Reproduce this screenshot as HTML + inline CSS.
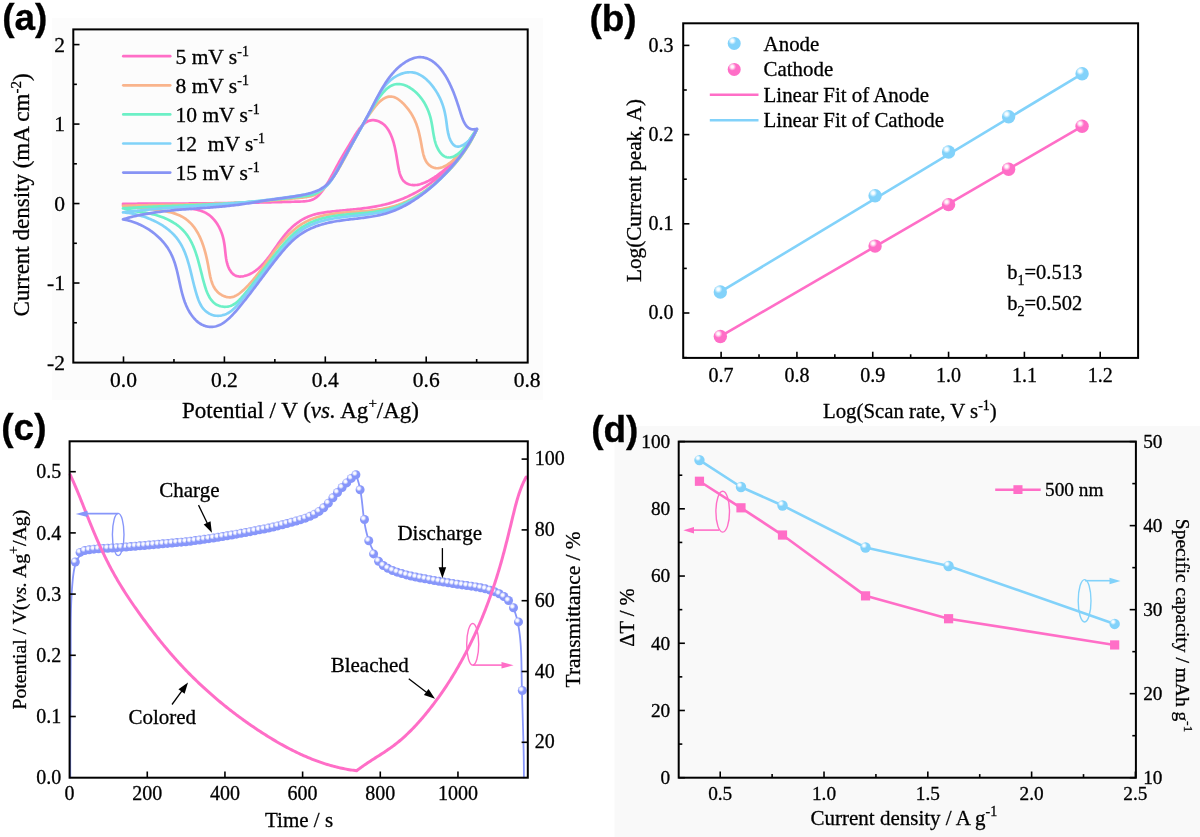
<!DOCTYPE html>
<html><head><meta charset="utf-8"><title>Figure</title>
<style>html,body{margin:0;padding:0;background:#fff;}svg{display:block;will-change:transform;}text{fill:#000;stroke:#000;stroke-width:0.3px;}</style>
</head><body>
<svg width="1200" height="837" viewBox="0 0 1200 837">
<defs>
<radialGradient id="gSky" cx="0.35" cy="0.3" r="0.3">
<stop offset="0" stop-color="#ffffff"/><stop offset="0.35" stop-color="#f2fbff"/><stop offset="1" stop-color="#82d2fa"/></radialGradient>
<radialGradient id="gPink" cx="0.35" cy="0.3" r="0.3">
<stop offset="0" stop-color="#ffffff"/><stop offset="0.35" stop-color="#fff0f8"/><stop offset="1" stop-color="#ff6ec7"/></radialGradient>
<radialGradient id="gBlue" cx="0.36" cy="0.34" r="0.34">
<stop offset="0" stop-color="#ffffff"/><stop offset="0.4" stop-color="#f4f5ff"/><stop offset="1" stop-color="#8796fa"/></radialGradient>
</defs>
<rect width="1200" height="837" fill="#ffffff"/>
<rect x="52" y="18" width="491" height="382" fill="#fcfcfc"/>
<rect x="614.5" y="426" width="585.5" height="411" fill="#f9f9f9"/>
<text x="2.15" y="30.3" font-size="37" text-anchor="start" font-family='"Liberation Sans", sans-serif' font-weight="bold" >(a)</text>
<path d="M123 203.75 L124.51 203.75 L126.01 203.75 L127.52 203.74 L129.02 203.74 L130.53 203.74 L132.03 203.74 L133.54 203.73 L135.05 203.73 L136.56 203.73 L138.06 203.72 L139.57 203.72 L141.08 203.72 L142.59 203.71 L144.09 203.71 L145.6 203.7 L147.11 203.7 L148.62 203.69 L150.13 203.69 L151.64 203.68 L153.15 203.68 L154.66 203.67 L156.17 203.67 L157.68 203.66 L159.19 203.65 L160.7 203.65 L162.21 203.64 L163.72 203.63 L165.23 203.63 L166.74 203.62 L168.25 203.61 L169.76 203.6 L171.27 203.59 L172.78 203.58 L174.29 203.58 L175.8 203.57 L177.31 203.56 L178.82 203.55 L180.33 203.54 L181.84 203.53 L183.35 203.52 L184.86 203.51 L186.37 203.49 L187.88 203.48 L189.39 203.47 L190.9 203.46 L192.41 203.45 L193.92 203.43 L195.43 203.42 L196.94 203.41 L198.45 203.39 L199.96 203.38 L201.47 203.37 L202.98 203.35 L204.49 203.34 L206 203.32 L207.51 203.31 L209.02 203.29 L210.53 203.27 L212.04 203.26 L213.55 203.24 L215.05 203.22 L216.56 203.2 L218.07 203.19 L219.58 203.17 L221.09 203.15 L222.59 203.13 L224.1 203.11 L225.61 203.09 L227.11 203.07 L228.62 203.05 L230.12 203.03 L231.63 203.01 L233.14 202.99 L234.64 202.96 L236.15 202.94 L237.65 202.92 L239.15 202.9 L240.66 202.87 L242.16 202.85 L243.66 202.82 L245.17 202.8 L246.67 202.77 L248.17 202.75 L249.68 202.72 L251.18 202.69 L252.68 202.67 L254.19 202.64 L255.69 202.61 L257.19 202.58 L258.7 202.55 L260.2 202.52 L261.71 202.49 L263.21 202.46 L264.72 202.43 L266.23 202.4 L267.74 202.37 L269.25 202.33 L270.76 202.3 L272.27 202.27 L273.78 202.23 L275.3 202.2 L276.81 202.16 L278.33 202.13 L279.85 202.09 L281.37 202.05 L282.89 202.01 L284.41 201.97 L285.94 201.93 L287.46 201.89 L288.99 201.85 L290.52 201.81 L292.05 201.77 L293.59 201.73 L295.12 201.68 L296.66 201.64 L298.2 201.59 L299.75 201.55 L301.29 201.49 L302.82 201.42 L304.34 201.31 L305.83 201.17 L307.3 200.97 L308.74 200.72 L310.13 200.39 L311.48 199.97 L312.78 199.47 L314.01 198.85 L315.19 198.14 L316.32 197.34 L317.4 196.45 L318.43 195.48 L319.43 194.45 L320.39 193.37 L321.32 192.23 L322.23 191.06 L323.12 189.85 L323.99 188.62 L324.84 187.36 L325.68 186.09 L326.5 184.79 L327.31 183.48 L328.11 182.15 L328.89 180.82 L329.66 179.47 L330.43 178.11 L331.18 176.75 L331.93 175.39 L332.67 174.02 L333.4 172.66 L334.13 171.29 L334.85 169.94 L335.57 168.59 L336.29 167.25 L337.01 165.92 L337.72 164.61 L338.44 163.31 L339.15 162.02 L339.87 160.75 L340.59 159.48 L341.31 158.23 L342.04 156.98 L342.77 155.73 L343.5 154.48 L344.24 153.24 L344.98 151.99 L345.72 150.74 L346.48 149.48 L347.24 148.22 L348 146.94 L348.78 145.65 L349.56 144.35 L350.35 143.03 L351.15 141.7 L351.95 140.34 L352.77 138.97 L353.6 137.58 L354.44 136.18 L355.3 134.79 L356.18 133.41 L357.07 132.05 L357.98 130.72 L358.91 129.43 L359.86 128.19 L360.84 127.01 L361.84 125.89 L362.88 124.84 L363.94 123.88 L365.03 123.01 L366.15 122.24 L367.31 121.58 L368.5 121.04 L369.73 120.62 L370.99 120.34 L372.3 120.2 L373.64 120.21 L375 120.36 L376.37 120.64 L377.73 121.05 L379.08 121.58 L380.41 122.22 L381.69 122.97 L382.93 123.83 L384.1 124.79 L385.19 125.84 L386.21 126.97 L387.16 128.18 L388.04 129.45 L388.85 130.77 L389.6 132.14 L390.3 133.54 L390.94 134.97 L391.54 136.41 L392.09 137.85 L392.6 139.29 L393.07 140.73 L393.51 142.18 L393.92 143.62 L394.3 145.06 L394.65 146.51 L394.97 147.96 L395.28 149.41 L395.57 150.87 L395.85 152.34 L396.11 153.82 L396.37 155.3 L396.62 156.79 L396.87 158.3 L397.11 159.81 L397.36 161.34 L397.62 162.88 L397.88 164.44 L398.16 166.01 L398.45 167.6 L398.77 169.18 L399.11 170.76 L399.5 172.31 L399.93 173.81 L400.41 175.27 L400.96 176.66 L401.57 177.96 L402.27 179.17 L403.05 180.27 L403.92 181.26 L404.87 182.12 L405.9 182.87 L406.99 183.5 L408.15 184.03 L409.36 184.44 L410.61 184.75 L411.89 184.96 L413.21 185.07 L414.54 185.08 L415.89 185 L417.25 184.83 L418.63 184.57 L420.02 184.24 L421.41 183.83 L422.81 183.35 L424.21 182.81 L425.61 182.21 L427.01 181.55 L428.41 180.84 L429.8 180.08 L431.19 179.29 L432.57 178.45 L433.93 177.59 L435.28 176.69 L436.61 175.78 L437.92 174.84 L439.22 173.89 L440.49 172.94 L441.73 171.98 L442.96 171.01 L444.16 170.03 L445.33 169.05 L446.49 168.06 L447.63 167.06 L448.75 166.05 L449.85 165.04 L450.92 164.01 L451.99 162.98 L453.03 161.94 L454.06 160.89 L455.07 159.83 L456.06 158.77 L457.04 157.69 L458.01 156.6 L458.96 155.5 L459.9 154.39 L460.83 153.27 L461.74 152.14 L462.65 150.99 L463.54 149.84 L464.42 148.67 L465.3 147.5 L466.16 146.31 L467.02 145.1 L467.87 143.89 L468.71 142.66 L469.55 141.41 L470.38 140.16 L471.21 138.89 L472.03 137.61 L472.84 136.31 L473.66 135 L474.47 133.67 L475.28 132.33 L476.09 130.97 L476.9 129.6M476.89 129.6 L476.2 130.91 L475.49 132.21 L474.77 133.51 L474.04 134.81 L473.29 136.09 L472.52 137.38 L471.75 138.65 L470.96 139.92 L470.16 141.19 L469.34 142.44 L468.51 143.69 L467.67 144.94 L466.81 146.18 L465.94 147.41 L465.06 148.63 L464.17 149.84 L463.26 151.05 L462.35 152.25 L461.42 153.44 L460.47 154.63 L459.52 155.8 L458.55 156.97 L457.58 158.13 L456.59 159.28 L455.59 160.42 L454.58 161.55 L453.55 162.67 L452.52 163.78 L451.47 164.89 L450.42 165.98 L449.35 167.06 L448.28 168.13 L447.19 169.2 L446.09 170.25 L444.98 171.29 L443.86 172.32 L442.74 173.34 L441.6 174.34 L440.45 175.34 L439.29 176.32 L438.13 177.29 L436.95 178.25 L435.76 179.2 L434.57 180.14 L433.37 181.06 L432.15 181.97 L430.93 182.87 L429.7 183.75 L428.46 184.62 L427.22 185.48 L425.96 186.32 L424.7 187.15 L423.43 187.97 L422.15 188.77 L420.86 189.56 L419.57 190.33 L418.26 191.09 L416.95 191.83 L415.64 192.56 L414.31 193.28 L412.98 193.98 L411.64 194.66 L410.29 195.32 L408.94 195.98 L407.58 196.61 L406.22 197.23 L404.85 197.83 L403.47 198.42 L402.08 198.99 L400.69 199.54 L399.3 200.07 L397.89 200.59 L396.49 201.09 L395.07 201.57 L393.66 202.04 L392.23 202.49 L390.8 202.91 L389.37 203.33 L387.93 203.72 L386.48 204.1 L385.04 204.46 L383.58 204.81 L382.13 205.14 L380.66 205.46 L379.2 205.76 L377.73 206.05 L376.26 206.33 L374.78 206.6 L373.3 206.85 L371.82 207.1 L370.33 207.33 L368.84 207.55 L367.35 207.77 L365.85 207.97 L364.35 208.17 L362.85 208.36 L361.35 208.55 L359.85 208.72 L358.34 208.89 L356.83 209.06 L355.32 209.22 L353.81 209.37 L352.3 209.52 L350.78 209.67 L349.27 209.82 L347.75 209.96 L346.23 210.11 L344.72 210.25 L343.2 210.39 L341.68 210.53 L340.16 210.67 L338.64 210.81 L337.12 210.95 L335.6 211.1 L334.08 211.25 L332.56 211.41 L331.05 211.57 L329.54 211.74 L328.03 211.92 L326.53 212.12 L325.03 212.33 L323.54 212.56 L322.06 212.8 L320.59 213.07 L319.13 213.37 L317.68 213.69 L316.24 214.03 L314.81 214.41 L313.4 214.81 L312 215.26 L310.61 215.73 L309.25 216.25 L307.9 216.8 L306.56 217.4 L305.25 218.03 L303.95 218.7 L302.67 219.41 L301.41 220.16 L300.17 220.94 L298.94 221.76 L297.73 222.61 L296.54 223.49 L295.37 224.41 L294.21 225.35 L293.08 226.33 L291.96 227.34 L290.86 228.37 L289.78 229.44 L288.72 230.53 L287.67 231.65 L286.65 232.79 L285.64 233.95 L284.65 235.14 L283.67 236.35 L282.71 237.58 L281.76 238.82 L280.82 240.08 L279.9 241.34 L278.98 242.62 L278.07 243.9 L277.16 245.19 L276.26 246.49 L275.36 247.78 L274.46 249.07 L273.57 250.36 L272.67 251.64 L271.77 252.92 L270.86 254.19 L269.95 255.44 L269.03 256.68 L268.1 257.9 L267.17 259.11 L266.22 260.29 L265.26 261.45 L264.28 262.59 L263.29 263.7 L262.28 264.78 L261.25 265.84 L260.21 266.85 L259.14 267.83 L258.05 268.78 L256.94 269.68 L255.8 270.55 L254.63 271.37 L253.43 272.14 L252.21 272.86 L250.95 273.54 L249.66 274.16 L248.34 274.73 L246.98 275.24 L245.6 275.68 L244.21 276.04 L242.82 276.31 L241.43 276.47 L240.07 276.53 L238.73 276.45 L237.43 276.24 L236.19 275.89 L235.01 275.37 L233.9 274.7 L232.86 273.86 L231.9 272.9 L231.01 271.8 L230.19 270.6 L229.44 269.31 L228.76 267.93 L228.16 266.49 L227.63 265 L227.17 263.48 L226.78 261.92 L226.45 260.35 L226.16 258.76 L225.92 257.16 L225.71 255.55 L225.52 253.95 L225.35 252.36 L225.18 250.78 L225.02 249.22 L224.84 247.68 L224.65 246.16 L224.45 244.66 L224.22 243.18 L223.97 241.71 L223.69 240.25 L223.37 238.8 L223.01 237.35 L222.61 235.91 L222.17 234.48 L221.67 233.05 L221.13 231.63 L220.54 230.23 L219.91 228.84 L219.23 227.48 L218.51 226.14 L217.74 224.82 L216.93 223.55 L216.08 222.3 L215.18 221.1 L214.24 219.93 L213.26 218.82 L212.24 217.75 L211.18 216.74 L210.08 215.78 L208.93 214.89 L207.75 214.06 L206.53 213.3 L205.27 212.61 L203.97 211.98 L202.64 211.42 L201.28 210.92 L199.89 210.48 L198.48 210.09 L197.03 209.75 L195.57 209.45 L194.09 209.2 L192.59 208.98 L191.07 208.79 L189.54 208.63 L188.01 208.49 L186.46 208.38 L184.91 208.28 L183.36 208.19 L181.81 208.11 L180.25 208.04 L178.71 207.96 L177.17 207.89 L175.63 207.81 L174.1 207.73 L172.58 207.64 L171.06 207.56 L169.54 207.47 L168.03 207.38 L166.53 207.29 L165.02 207.2 L163.52 207.1 L162.02 207.01 L160.53 206.91 L159.04 206.81 L157.55 206.71 L156.06 206.61 L154.57 206.51 L153.08 206.41 L151.59 206.31 L150.11 206.21 L148.62 206.11 L147.13 206.01 L145.64 205.9 L144.15 205.8 L142.66 205.7 L141.17 205.6 L139.68 205.5 L138.18 205.41 L136.68 205.31 L135.18 205.21 L133.67 205.12 L132.16 205.02 L130.64 204.93 L129.13 204.84 L127.6 204.75 L126.07 204.67 L124.54 204.58 L123 204.5" fill="none" stroke="#ff6ec7" stroke-width="2.7" stroke-linejoin="round" stroke-linecap="round" />
<path d="M123 205.8 L124.51 205.76 L126.01 205.72 L127.52 205.68 L129.02 205.64 L130.53 205.6 L132.03 205.56 L133.54 205.53 L135.05 205.49 L136.55 205.46 L138.06 205.42 L139.57 205.39 L141.07 205.36 L142.58 205.33 L144.09 205.29 L145.6 205.26 L147.1 205.23 L148.61 205.2 L150.12 205.17 L151.62 205.14 L153.13 205.11 L154.64 205.09 L156.15 205.06 L157.66 205.03 L159.16 205 L160.67 204.97 L162.18 204.94 L163.69 204.92 L165.2 204.89 L166.7 204.86 L168.21 204.83 L169.72 204.8 L171.23 204.77 L172.74 204.75 L174.24 204.72 L175.75 204.69 L177.26 204.66 L178.77 204.63 L180.28 204.6 L181.79 204.57 L183.29 204.54 L184.8 204.5 L186.31 204.47 L187.82 204.44 L189.33 204.41 L190.83 204.37 L192.34 204.34 L193.85 204.3 L195.36 204.27 L196.86 204.23 L198.37 204.19 L199.88 204.15 L201.39 204.11 L202.89 204.07 L204.4 204.03 L205.91 203.99 L207.42 203.94 L208.92 203.9 L210.43 203.85 L211.94 203.8 L213.44 203.75 L214.95 203.7 L216.46 203.65 L217.96 203.6 L219.47 203.54 L220.97 203.49 L222.48 203.43 L223.98 203.37 L225.49 203.31 L226.99 203.25 L228.5 203.19 L230 203.12 L231.51 203.05 L233.01 202.98 L234.52 202.91 L236.02 202.84 L237.53 202.77 L239.03 202.69 L240.53 202.61 L242.04 202.53 L243.54 202.45 L245.04 202.36 L246.54 202.28 L248.05 202.19 L249.55 202.1 L251.05 202.01 L252.55 201.91 L254.06 201.81 L255.56 201.71 L257.06 201.61 L258.56 201.51 L260.07 201.4 L261.57 201.29 L263.07 201.18 L264.57 201.07 L266.08 200.95 L267.58 200.83 L269.08 200.71 L270.59 200.59 L272.09 200.47 L273.59 200.34 L275.1 200.21 L276.6 200.07 L278.11 199.94 L279.61 199.8 L281.12 199.66 L282.63 199.52 L284.13 199.38 L285.64 199.24 L287.15 199.09 L288.66 198.95 L290.17 198.8 L291.68 198.65 L293.19 198.5 L294.71 198.35 L296.22 198.2 L297.74 198.05 L299.25 197.9 L300.77 197.75 L302.29 197.59 L303.8 197.43 L305.31 197.24 L306.8 197.04 L308.28 196.79 L309.73 196.51 L311.15 196.17 L312.54 195.77 L313.9 195.31 L315.21 194.77 L316.49 194.15 L317.71 193.45 L318.9 192.68 L320.06 191.85 L321.18 190.96 L322.27 190.02 L323.34 189.03 L324.37 188.01 L325.39 186.95 L326.39 185.86 L327.37 184.75 L328.34 183.61 L329.29 182.45 L330.22 181.27 L331.14 180.07 L332.04 178.85 L332.93 177.62 L333.8 176.37 L334.66 175.11 L335.5 173.83 L336.34 172.54 L337.16 171.24 L337.97 169.93 L338.77 168.62 L339.55 167.3 L340.33 165.97 L341.1 164.64 L341.85 163.31 L342.6 161.98 L343.34 160.64 L344.07 159.31 L344.8 157.98 L345.52 156.65 L346.23 155.32 L346.94 153.99 L347.64 152.66 L348.34 151.33 L349.04 150 L349.74 148.67 L350.43 147.34 L351.12 146.02 L351.82 144.69 L352.51 143.37 L353.2 142.04 L353.9 140.72 L354.59 139.4 L355.29 138.08 L356 136.77 L356.71 135.45 L357.42 134.14 L358.14 132.83 L358.86 131.52 L359.6 130.21 L360.34 128.9 L361.08 127.6 L361.84 126.3 L362.61 125 L363.39 123.7 L364.17 122.41 L364.97 121.12 L365.79 119.83 L366.61 118.54 L367.45 117.26 L368.3 115.98 L369.17 114.7 L370.06 113.43 L370.96 112.16 L371.87 110.89 L372.81 109.63 L373.76 108.38 L374.73 107.16 L375.72 105.96 L376.72 104.79 L377.74 103.67 L378.78 102.61 L379.83 101.6 L380.91 100.66 L381.99 99.8 L383.1 99.02 L384.22 98.33 L385.36 97.74 L386.52 97.26 L387.69 96.89 L388.88 96.64 L390.08 96.53 L391.3 96.55 L392.54 96.72 L393.79 97.04 L395.05 97.52 L396.33 98.14 L397.6 98.89 L398.87 99.75 L400.13 100.72 L401.38 101.76 L402.6 102.89 L403.78 104.07 L404.93 105.29 L406.04 106.54 L407.1 107.81 L408.12 109.1 L409.08 110.4 L410 111.72 L410.87 113.04 L411.7 114.38 L412.48 115.72 L413.22 117.07 L413.92 118.42 L414.57 119.77 L415.17 121.12 L415.74 122.48 L416.28 123.84 L416.78 125.2 L417.24 126.57 L417.68 127.95 L418.09 129.34 L418.48 130.73 L418.85 132.13 L419.19 133.55 L419.52 134.97 L419.83 136.41 L420.14 137.86 L420.43 139.33 L420.72 140.81 L421 142.31 L421.28 143.83 L421.56 145.36 L421.84 146.91 L422.13 148.49 L422.43 150.07 L422.75 151.65 L423.11 153.22 L423.5 154.76 L423.94 156.27 L424.43 157.73 L424.99 159.13 L425.62 160.46 L426.33 161.71 L427.12 162.87 L428 163.93 L428.95 164.89 L429.97 165.74 L431.04 166.47 L432.17 167.08 L433.35 167.57 L434.56 167.93 L435.8 168.15 L437.06 168.23 L438.34 168.18 L439.63 167.99 L440.93 167.68 L442.24 167.26 L443.55 166.72 L444.86 166.09 L446.17 165.37 L447.48 164.57 L448.77 163.69 L450.06 162.74 L451.32 161.73 L452.57 160.67 L453.8 159.57 L455 158.43 L456.17 157.26 L457.31 156.07 L458.42 154.87 L459.48 153.67 L460.51 152.46 L461.49 151.27 L462.43 150.08 L463.34 148.9 L464.22 147.72 L465.08 146.54 L465.91 145.36 L466.73 144.18 L467.54 143.01 L468.34 141.82 L469.14 140.64 L469.94 139.44 L470.74 138.24 L471.55 137.03 L472.38 135.81 L473.23 134.58 L474.1 133.33 L475 132.07 L475.93 130.79 L476.9 129.5M476.89 129.5 L476.25 130.89 L475.6 132.28 L474.93 133.66 L474.25 135.03 L473.56 136.38 L472.85 137.73 L472.13 139.06 L471.4 140.39 L470.66 141.7 L469.91 143 L469.14 144.3 L468.36 145.58 L467.57 146.85 L466.76 148.11 L465.95 149.36 L465.12 150.6 L464.28 151.84 L463.42 153.06 L462.56 154.27 L461.68 155.47 L460.79 156.67 L459.89 157.85 L458.98 159.02 L458.05 160.19 L457.11 161.34 L456.17 162.49 L455.21 163.62 L454.23 164.75 L453.25 165.87 L452.26 166.98 L451.25 168.08 L450.23 169.17 L449.2 170.25 L448.16 171.32 L447.11 172.39 L446.05 173.44 L444.97 174.49 L443.89 175.53 L442.79 176.56 L441.68 177.58 L440.56 178.59 L439.43 179.6 L438.29 180.6 L437.14 181.58 L435.98 182.56 L434.8 183.52 L433.62 184.48 L432.43 185.42 L431.22 186.36 L430.01 187.28 L428.79 188.19 L427.56 189.08 L426.31 189.96 L425.06 190.83 L423.8 191.69 L422.53 192.53 L421.25 193.36 L419.97 194.17 L418.67 194.96 L417.37 195.74 L416.06 196.51 L414.74 197.25 L413.41 197.98 L412.07 198.69 L410.73 199.39 L409.38 200.06 L408.02 200.72 L406.65 201.36 L405.28 201.98 L403.9 202.58 L402.51 203.16 L401.11 203.72 L399.71 204.25 L398.31 204.77 L396.89 205.26 L395.47 205.73 L394.05 206.18 L392.61 206.61 L391.18 207.01 L389.73 207.39 L388.28 207.74 L386.83 208.08 L385.37 208.39 L383.91 208.68 L382.44 208.96 L380.96 209.21 L379.49 209.45 L378.01 209.67 L376.52 209.88 L375.03 210.07 L373.54 210.25 L372.05 210.42 L370.55 210.57 L369.05 210.72 L367.55 210.86 L366.05 210.99 L364.54 211.11 L363.04 211.23 L361.53 211.34 L360.02 211.45 L358.51 211.55 L357 211.65 L355.49 211.76 L353.98 211.86 L352.47 211.96 L350.96 212.07 L349.45 212.17 L347.94 212.28 L346.43 212.4 L344.93 212.52 L343.42 212.65 L341.92 212.79 L340.42 212.94 L338.92 213.09 L337.42 213.26 L335.92 213.44 L334.43 213.63 L332.94 213.84 L331.46 214.06 L329.98 214.3 L328.5 214.56 L327.03 214.83 L325.56 215.12 L324.1 215.43 L322.64 215.77 L321.2 216.12 L319.76 216.5 L318.33 216.9 L316.91 217.33 L315.49 217.78 L314.09 218.26 L312.7 218.77 L311.32 219.3 L309.96 219.87 L308.6 220.46 L307.26 221.09 L305.94 221.75 L304.63 222.45 L303.33 223.18 L302.05 223.95 L300.79 224.74 L299.54 225.58 L298.31 226.44 L297.09 227.34 L295.89 228.26 L294.71 229.21 L293.54 230.18 L292.38 231.18 L291.25 232.2 L290.12 233.25 L289.02 234.31 L287.92 235.39 L286.85 236.49 L285.79 237.6 L284.74 238.73 L283.71 239.86 L282.69 241.01 L281.69 242.17 L280.7 243.34 L279.73 244.51 L278.77 245.69 L277.82 246.87 L276.89 248.07 L275.96 249.26 L275.05 250.46 L274.14 251.67 L273.24 252.87 L272.35 254.09 L271.46 255.3 L270.58 256.52 L269.7 257.73 L268.83 258.95 L267.95 260.17 L267.08 261.39 L266.21 262.61 L265.34 263.83 L264.46 265.04 L263.59 266.26 L262.71 267.47 L261.82 268.68 L260.93 269.89 L260.03 271.09 L259.13 272.29 L258.22 273.48 L257.3 274.67 L256.37 275.86 L255.42 277.03 L254.47 278.2 L253.5 279.37 L252.52 280.52 L251.52 281.67 L250.51 282.81 L249.48 283.94 L248.44 285.06 L247.37 286.17 L246.29 287.27 L245.18 288.35 L244.06 289.43 L242.91 290.49 L241.74 291.53 L240.55 292.54 L239.33 293.48 L238.09 294.36 L236.83 295.15 L235.54 295.84 L234.23 296.42 L232.9 296.86 L231.54 297.16 L230.16 297.3 L228.77 297.28 L227.37 297.11 L225.97 296.81 L224.6 296.38 L223.25 295.84 L221.95 295.19 L220.7 294.44 L219.51 293.61 L218.4 292.71 L217.38 291.74 L216.44 290.71 L215.57 289.62 L214.79 288.48 L214.07 287.29 L213.42 286.05 L212.82 284.77 L212.29 283.45 L211.79 282.09 L211.35 280.7 L210.94 279.28 L210.57 277.82 L210.22 276.35 L209.9 274.85 L209.6 273.33 L209.31 271.8 L209.03 270.25 L208.75 268.7 L208.47 267.14 L208.19 265.58 L207.89 264.01 L207.58 262.45 L207.26 260.89 L206.93 259.33 L206.59 257.78 L206.23 256.23 L205.86 254.69 L205.47 253.16 L205.06 251.64 L204.64 250.13 L204.2 248.62 L203.74 247.13 L203.26 245.66 L202.76 244.2 L202.24 242.76 L201.69 241.33 L201.12 239.93 L200.53 238.54 L199.92 237.17 L199.28 235.83 L198.61 234.51 L197.92 233.22 L197.19 231.95 L196.44 230.71 L195.66 229.5 L194.85 228.31 L194.01 227.16 L193.13 226.04 L192.23 224.96 L191.29 223.9 L190.31 222.89 L189.3 221.91 L188.26 220.97 L187.17 220.07 L186.05 219.21 L184.89 218.39 L183.69 217.61 L182.45 216.88 L181.17 216.19 L179.85 215.55 L178.49 214.95 L177.1 214.4 L175.68 213.88 L174.22 213.4 L172.74 212.96 L171.24 212.55 L169.72 212.17 L168.18 211.82 L166.63 211.5 L165.07 211.2 L163.51 210.92 L161.94 210.67 L160.36 210.43 L158.79 210.21 L157.23 210.01 L155.67 209.81 L154.13 209.63 L152.6 209.45 L151.08 209.28 L149.59 209.12 L148.11 208.95 L146.64 208.8 L145.19 208.64 L143.75 208.48 L142.31 208.32 L140.87 208.16 L139.44 208 L138 207.83 L136.56 207.66 L135.12 207.49 L133.66 207.31 L132.19 207.12 L130.71 206.92 L129.21 206.72 L127.69 206.51 L126.15 206.28 L124.59 206.05 L123 205.8" fill="none" stroke="#f9b48c" stroke-width="2.7" stroke-linejoin="round" stroke-linecap="round" />
<path d="M123 208.3 L124.5 208.21 L126.01 208.11 L127.51 208.02 L129.01 207.93 L130.52 207.84 L132.02 207.76 L133.52 207.67 L135.03 207.59 L136.53 207.51 L138.04 207.43 L139.54 207.35 L141.05 207.28 L142.55 207.2 L144.06 207.13 L145.56 207.06 L147.07 206.99 L148.57 206.92 L150.08 206.85 L151.59 206.78 L153.09 206.71 L154.6 206.65 L156.1 206.58 L157.61 206.52 L159.12 206.46 L160.63 206.4 L162.13 206.33 L163.64 206.27 L165.15 206.21 L166.65 206.15 L168.16 206.09 L169.67 206.03 L171.17 205.98 L172.68 205.92 L174.19 205.86 L175.7 205.8 L177.2 205.74 L178.71 205.69 L180.22 205.63 L181.73 205.57 L183.23 205.51 L184.74 205.45 L186.25 205.39 L187.76 205.33 L189.26 205.28 L190.77 205.22 L192.28 205.15 L193.78 205.09 L195.29 205.03 L196.8 204.97 L198.3 204.91 L199.81 204.84 L201.32 204.78 L202.82 204.71 L204.33 204.65 L205.84 204.58 L207.34 204.51 L208.85 204.44 L210.35 204.37 L211.86 204.3 L213.37 204.22 L214.87 204.15 L216.38 204.07 L217.88 204 L219.39 203.92 L220.89 203.84 L222.39 203.75 L223.9 203.67 L225.4 203.58 L226.91 203.49 L228.41 203.4 L229.91 203.31 L231.42 203.22 L232.92 203.12 L234.42 203.02 L235.92 202.92 L237.42 202.82 L238.93 202.72 L240.43 202.61 L241.93 202.5 L243.43 202.39 L244.93 202.27 L246.43 202.16 L247.93 202.04 L249.43 201.91 L250.93 201.79 L252.43 201.66 L253.93 201.53 L255.43 201.4 L256.92 201.27 L258.42 201.14 L259.92 201 L261.42 200.86 L262.92 200.72 L264.42 200.57 L265.92 200.43 L267.42 200.28 L268.92 200.13 L270.42 199.98 L271.92 199.83 L273.42 199.67 L274.92 199.52 L276.42 199.36 L277.93 199.2 L279.43 199.04 L280.93 198.87 L282.43 198.71 L283.94 198.54 L285.44 198.38 L286.95 198.21 L288.45 198.04 L289.96 197.87 L291.46 197.69 L292.97 197.52 L294.48 197.34 L295.99 197.17 L297.5 196.99 L299.01 196.81 L300.52 196.63 L302.03 196.45 L303.55 196.26 L305.05 196.06 L306.55 195.85 L308.03 195.6 L309.5 195.32 L310.95 195 L312.37 194.62 L313.76 194.19 L315.12 193.69 L316.44 193.12 L317.73 192.47 L318.97 191.76 L320.18 190.97 L321.36 190.13 L322.5 189.23 L323.61 188.28 L324.69 187.29 L325.74 186.26 L326.76 185.19 L327.76 184.09 L328.72 182.96 L329.67 181.81 L330.59 180.63 L331.49 179.43 L332.37 178.21 L333.23 176.98 L334.08 175.72 L334.91 174.45 L335.72 173.16 L336.52 171.86 L337.3 170.55 L338.08 169.23 L338.84 167.91 L339.6 166.57 L340.34 165.23 L341.09 163.89 L341.82 162.55 L342.56 161.2 L343.29 159.86 L344.02 158.52 L344.75 157.19 L345.48 155.85 L346.21 154.52 L346.93 153.2 L347.66 151.87 L348.39 150.55 L349.11 149.22 L349.84 147.91 L350.56 146.59 L351.29 145.27 L352.01 143.96 L352.74 142.65 L353.47 141.34 L354.19 140.03 L354.92 138.72 L355.64 137.42 L356.37 136.11 L357.1 134.81 L357.83 133.51 L358.56 132.21 L359.29 130.91 L360.03 129.61 L360.76 128.31 L361.5 127.01 L362.23 125.71 L362.97 124.42 L363.71 123.12 L364.45 121.82 L365.2 120.53 L365.94 119.23 L366.69 117.93 L367.44 116.64 L368.2 115.34 L368.95 114.04 L369.71 112.74 L370.47 111.44 L371.23 110.15 L372 108.85 L372.77 107.55 L373.55 106.24 L374.33 104.94 L375.13 103.65 L375.95 102.35 L376.78 101.05 L377.64 99.76 L378.53 98.47 L379.45 97.19 L380.4 95.91 L381.39 94.64 L382.42 93.39 L383.48 92.17 L384.58 90.99 L385.7 89.86 L386.86 88.8 L388.04 87.82 L389.25 86.93 L390.48 86.15 L391.73 85.49 L392.99 84.95 L394.28 84.54 L395.58 84.25 L396.89 84.08 L398.2 84.02 L399.52 84.07 L400.85 84.22 L402.17 84.47 L403.49 84.81 L404.8 85.24 L406.1 85.76 L407.39 86.35 L408.66 87.01 L409.92 87.75 L411.15 88.54 L412.37 89.4 L413.55 90.31 L414.71 91.26 L415.83 92.27 L416.92 93.31 L417.97 94.39 L418.99 95.5 L419.96 96.65 L420.91 97.82 L421.81 99.03 L422.68 100.27 L423.52 101.54 L424.31 102.83 L425.08 104.15 L425.8 105.5 L426.49 106.86 L427.14 108.25 L427.76 109.66 L428.33 111.08 L428.88 112.52 L429.38 113.98 L429.85 115.45 L430.29 116.93 L430.68 118.43 L431.04 119.93 L431.37 121.45 L431.67 122.97 L431.95 124.49 L432.21 126.02 L432.45 127.54 L432.69 129.07 L432.92 130.59 L433.16 132.11 L433.41 133.63 L433.67 135.13 L433.95 136.62 L434.25 138.1 L434.58 139.57 L434.94 141.02 L435.35 142.46 L435.79 143.87 L436.29 145.26 L436.84 146.63 L437.45 147.97 L438.13 149.29 L438.86 150.55 L439.65 151.76 L440.5 152.89 L441.41 153.93 L442.37 154.86 L443.38 155.68 L444.44 156.36 L445.55 156.89 L446.71 157.26 L447.91 157.46 L449.14 157.49 L450.4 157.37 L451.68 157.1 L452.96 156.69 L454.24 156.16 L455.52 155.5 L456.78 154.73 L458.01 153.86 L459.2 152.9 L460.36 151.84 L461.48 150.71 L462.56 149.52 L463.61 148.27 L464.63 146.98 L465.61 145.65 L466.57 144.3 L467.5 142.93 L468.41 141.56 L469.29 140.2 L470.15 138.86 L471 137.54 L471.84 136.24 L472.67 134.98 L473.5 133.76 L474.34 132.59 L475.18 131.46 L476.03 130.4 L476.9 129.4M476.9 129.4 L476.24 130.78 L475.57 132.15 L474.89 133.51 L474.2 134.86 L473.5 136.2 L472.78 137.54 L472.05 138.86 L471.31 140.17 L470.56 141.47 L469.8 142.77 L469.02 144.05 L468.24 145.32 L467.44 146.59 L466.63 147.84 L465.81 149.09 L464.98 150.33 L464.14 151.55 L463.28 152.77 L462.42 153.98 L461.54 155.18 L460.65 156.38 L459.75 157.56 L458.84 158.73 L457.92 159.9 L456.99 161.06 L456.04 162.2 L455.09 163.34 L454.12 164.48 L453.15 165.6 L452.16 166.71 L451.16 167.82 L450.16 168.92 L449.14 170.01 L448.11 171.09 L447.07 172.17 L446.02 173.24 L444.96 174.3 L443.89 175.35 L442.81 176.39 L441.72 177.43 L440.62 178.46 L439.5 179.48 L438.38 180.49 L437.25 181.5 L436.11 182.49 L434.96 183.48 L433.8 184.46 L432.63 185.42 L431.45 186.38 L430.26 187.32 L429.06 188.26 L427.86 189.18 L426.64 190.09 L425.41 190.99 L424.18 191.87 L422.94 192.74 L421.68 193.6 L420.42 194.44 L419.15 195.27 L417.87 196.09 L416.59 196.88 L415.29 197.67 L413.99 198.43 L412.68 199.18 L411.36 199.91 L410.03 200.63 L408.7 201.32 L407.36 202 L406.01 202.66 L404.65 203.3 L403.28 203.92 L401.91 204.52 L400.53 205.1 L399.14 205.66 L397.75 206.2 L396.34 206.72 L394.94 207.21 L393.52 207.68 L392.1 208.13 L390.67 208.56 L389.23 208.96 L387.79 209.34 L386.34 209.69 L384.89 210.03 L383.43 210.34 L381.96 210.64 L380.49 210.91 L379.02 211.17 L377.54 211.41 L376.05 211.64 L374.57 211.85 L373.08 212.05 L371.58 212.24 L370.09 212.42 L368.59 212.58 L367.09 212.74 L365.58 212.89 L364.08 213.03 L362.57 213.17 L361.06 213.3 L359.55 213.43 L358.04 213.56 L356.53 213.68 L355.02 213.8 L353.51 213.93 L352.01 214.05 L350.5 214.18 L348.99 214.31 L347.49 214.44 L345.98 214.58 L344.48 214.73 L342.98 214.88 L341.49 215.05 L339.99 215.22 L338.5 215.4 L337.02 215.6 L335.54 215.81 L334.06 216.03 L332.58 216.26 L331.12 216.52 L329.65 216.79 L328.19 217.07 L326.74 217.38 L325.29 217.71 L323.86 218.05 L322.42 218.42 L321 218.81 L319.59 219.23 L318.18 219.66 L316.79 220.13 L315.4 220.62 L314.03 221.13 L312.67 221.68 L311.32 222.25 L309.98 222.85 L308.66 223.48 L307.35 224.15 L306.05 224.85 L304.77 225.58 L303.51 226.34 L302.26 227.14 L301.02 227.97 L299.81 228.84 L298.6 229.74 L297.42 230.67 L296.25 231.62 L295.09 232.61 L293.95 233.61 L292.82 234.64 L291.7 235.69 L290.6 236.76 L289.51 237.85 L288.44 238.95 L287.38 240.07 L286.33 241.2 L285.29 242.34 L284.26 243.49 L283.25 244.65 L282.24 245.81 L281.25 246.98 L280.27 248.14 L279.3 249.31 L278.33 250.49 L277.38 251.66 L276.44 252.83 L275.5 254.01 L274.57 255.18 L273.65 256.36 L272.73 257.54 L271.82 258.72 L270.91 259.9 L270.01 261.08 L269.11 262.26 L268.22 263.44 L267.33 264.63 L266.44 265.81 L265.55 267 L264.67 268.18 L263.78 269.37 L262.89 270.56 L262.01 271.74 L261.12 272.93 L260.23 274.12 L259.34 275.31 L258.44 276.5 L257.55 277.69 L256.64 278.88 L255.74 280.07 L254.83 281.26 L253.91 282.45 L252.98 283.64 L252.05 284.83 L251.12 286.02 L250.17 287.21 L249.22 288.4 L248.25 289.59 L247.28 290.78 L246.29 291.97 L245.3 293.16 L244.29 294.35 L243.28 295.54 L242.25 296.73 L241.2 297.91 L240.13 299.06 L239.05 300.17 L237.93 301.24 L236.78 302.25 L235.6 303.18 L234.38 304.03 L233.11 304.78 L231.81 305.41 L230.45 305.93 L229.05 306.32 L227.63 306.59 L226.19 306.75 L224.75 306.79 L223.32 306.71 L221.91 306.53 L220.53 306.24 L219.2 305.85 L217.93 305.35 L216.73 304.75 L215.6 304.06 L214.53 303.28 L213.53 302.42 L212.59 301.47 L211.7 300.45 L210.87 299.36 L210.09 298.21 L209.35 297 L208.66 295.73 L208.02 294.41 L207.4 293.04 L206.83 291.64 L206.28 290.2 L205.77 288.73 L205.28 287.24 L204.81 285.73 L204.36 284.2 L203.92 282.66 L203.5 281.12 L203.09 279.57 L202.68 278.03 L202.29 276.49 L201.9 274.95 L201.51 273.42 L201.12 271.88 L200.74 270.36 L200.35 268.83 L199.97 267.32 L199.58 265.81 L199.18 264.31 L198.79 262.82 L198.38 261.33 L197.97 259.86 L197.54 258.39 L197.11 256.94 L196.66 255.5 L196.2 254.07 L195.73 252.65 L195.24 251.25 L194.73 249.86 L194.2 248.49 L193.65 247.13 L193.08 245.8 L192.49 244.47 L191.87 243.17 L191.23 241.88 L190.56 240.62 L189.86 239.37 L189.13 238.15 L188.37 236.95 L187.58 235.77 L186.75 234.61 L185.89 233.48 L184.99 232.37 L184.05 231.29 L183.08 230.23 L182.06 229.2 L181.01 228.2 L179.91 227.22 L178.76 226.28 L177.57 225.36 L176.35 224.48 L175.08 223.62 L173.79 222.79 L172.46 221.99 L171.1 221.22 L169.72 220.49 L168.32 219.78 L166.89 219.1 L165.45 218.46 L164 217.84 L162.53 217.26 L161.05 216.71 L159.57 216.19 L158.08 215.7 L156.6 215.24 L155.11 214.82 L153.63 214.43 L152.16 214.07 L150.7 213.75 L149.24 213.45 L147.79 213.18 L146.35 212.93 L144.92 212.69 L143.49 212.47 L142.06 212.25 L140.63 212.04 L139.2 211.83 L137.76 211.62 L136.33 211.39 L134.88 211.15 L133.44 210.9 L131.98 210.62 L130.51 210.32 L129.04 209.99 L127.55 209.63 L126.05 209.23 L124.53 208.79 L123 208.3" fill="none" stroke="#6cf0c6" stroke-width="2.7" stroke-linejoin="round" stroke-linecap="round" />
<path d="M123 212.3 L124.5 212.12 L125.99 211.94 L127.49 211.77 L128.98 211.59 L130.48 211.43 L131.98 211.26 L133.47 211.1 L134.97 210.94 L136.47 210.79 L137.97 210.64 L139.46 210.49 L140.96 210.34 L142.46 210.2 L143.96 210.05 L145.46 209.91 L146.96 209.78 L148.46 209.64 L149.96 209.51 L151.46 209.38 L152.96 209.25 L154.46 209.12 L155.96 209 L157.46 208.88 L158.96 208.76 L160.46 208.64 L161.96 208.52 L163.46 208.4 L164.96 208.29 L166.46 208.18 L167.96 208.06 L169.47 207.95 L170.97 207.85 L172.47 207.74 L173.97 207.63 L175.47 207.52 L176.97 207.42 L178.48 207.31 L179.98 207.21 L181.48 207.11 L182.98 207 L184.49 206.9 L185.99 206.8 L187.49 206.7 L188.99 206.6 L190.49 206.5 L192 206.4 L193.5 206.3 L195 206.2 L196.5 206.1 L198.01 206 L199.51 205.9 L201.01 205.79 L202.51 205.69 L204.02 205.59 L205.52 205.49 L207.02 205.38 L208.52 205.28 L210.03 205.18 L211.53 205.07 L213.03 204.96 L214.53 204.86 L216.04 204.75 L217.54 204.64 L219.04 204.53 L220.54 204.42 L222.04 204.3 L223.54 204.19 L225.05 204.07 L226.55 203.96 L228.05 203.84 L229.55 203.71 L231.05 203.59 L232.55 203.47 L234.05 203.34 L235.55 203.21 L237.05 203.08 L238.55 202.95 L240.05 202.81 L241.55 202.68 L243.05 202.54 L244.55 202.39 L246.05 202.25 L247.55 202.1 L249.05 201.95 L250.55 201.8 L252.05 201.64 L253.54 201.49 L255.04 201.33 L256.54 201.17 L258.04 201 L259.54 200.83 L261.03 200.66 L262.53 200.49 L264.03 200.32 L265.52 200.14 L267.02 199.96 L268.52 199.77 L270.01 199.59 L271.51 199.4 L273 199.21 L274.5 199.01 L275.99 198.82 L277.49 198.62 L278.98 198.42 L280.48 198.21 L281.97 198 L283.47 197.79 L284.96 197.58 L286.45 197.36 L287.95 197.14 L289.44 196.92 L290.93 196.7 L292.42 196.47 L293.92 196.24 L295.41 196 L296.9 195.77 L298.39 195.53 L299.88 195.28 L301.37 195.04 L302.86 194.79 L304.35 194.53 L305.83 194.27 L307.31 193.99 L308.78 193.69 L310.23 193.37 L311.67 193.03 L313.1 192.65 L314.5 192.25 L315.89 191.8 L317.25 191.32 L318.58 190.79 L319.89 190.21 L321.16 189.58 L322.4 188.89 L323.61 188.14 L324.77 187.33 L325.9 186.45 L326.98 185.5 L328.02 184.47 L329.01 183.36 L329.95 182.18 L330.86 180.94 L331.73 179.65 L332.57 178.31 L333.38 176.94 L334.17 175.55 L334.95 174.15 L335.71 172.75 L336.47 171.35 L337.22 169.97 L337.98 168.61 L338.73 167.27 L339.48 165.94 L340.23 164.62 L340.98 163.31 L341.72 162.01 L342.47 160.71 L343.22 159.42 L343.97 158.13 L344.71 156.84 L345.46 155.55 L346.2 154.26 L346.95 152.97 L347.69 151.68 L348.44 150.38 L349.18 149.09 L349.92 147.8 L350.67 146.51 L351.41 145.21 L352.15 143.92 L352.89 142.62 L353.63 141.33 L354.37 140.03 L355.11 138.73 L355.85 137.43 L356.58 136.13 L357.32 134.83 L358.05 133.52 L358.78 132.21 L359.52 130.91 L360.25 129.6 L360.98 128.29 L361.7 126.97 L362.43 125.66 L363.16 124.34 L363.88 123.02 L364.6 121.7 L365.32 120.37 L366.04 119.05 L366.76 117.72 L367.48 116.38 L368.19 115.05 L368.9 113.71 L369.61 112.37 L370.32 111.02 L371.03 109.68 L371.73 108.32 L372.44 106.97 L373.14 105.61 L373.84 104.25 L374.54 102.89 L375.25 101.53 L375.96 100.18 L376.68 98.83 L377.4 97.49 L378.15 96.16 L378.9 94.84 L379.68 93.54 L380.47 92.25 L381.28 90.98 L382.12 89.73 L382.98 88.51 L383.87 87.31 L384.79 86.13 L385.74 84.99 L386.73 83.87 L387.75 82.79 L388.81 81.74 L389.92 80.74 L391.06 79.77 L392.24 78.84 L393.46 77.96 L394.7 77.13 L395.98 76.36 L397.28 75.64 L398.6 74.98 L399.95 74.38 L401.3 73.85 L402.68 73.39 L404.06 73 L405.45 72.69 L406.85 72.46 L408.24 72.3 L409.64 72.24 L411.03 72.26 L412.42 72.38 L413.79 72.59 L415.15 72.9 L416.49 73.31 L417.82 73.82 L419.13 74.41 L420.42 75.09 L421.69 75.85 L422.94 76.68 L424.16 77.58 L425.36 78.55 L426.53 79.57 L427.67 80.65 L428.79 81.77 L429.87 82.94 L430.92 84.14 L431.94 85.37 L432.93 86.64 L433.88 87.92 L434.79 89.22 L435.67 90.53 L436.5 91.85 L437.3 93.17 L438.05 94.48 L438.77 95.79 L439.44 97.11 L440.08 98.43 L440.68 99.74 L441.25 101.07 L441.78 102.4 L442.28 103.74 L442.75 105.09 L443.2 106.44 L443.61 107.81 L444 109.2 L444.36 110.6 L444.7 112.01 L445.01 113.45 L445.31 114.9 L445.58 116.38 L445.84 117.88 L446.07 119.4 L446.3 120.95 L446.5 122.52 L446.71 124.11 L446.92 125.72 L447.13 127.33 L447.37 128.93 L447.63 130.53 L447.92 132.12 L448.25 133.68 L448.64 135.22 L449.07 136.72 L449.57 138.18 L450.13 139.58 L450.75 140.9 L451.43 142.12 L452.17 143.23 L452.97 144.22 L453.83 145.06 L454.74 145.73 L455.72 146.23 L456.75 146.53 L457.85 146.63 L458.98 146.54 L460.16 146.27 L461.36 145.84 L462.59 145.26 L463.82 144.55 L465.06 143.71 L466.29 142.77 L467.51 141.73 L468.7 140.61 L469.86 139.43 L470.98 138.19 L472.05 136.91 L473.06 135.61 L474 134.3 L474.86 132.99 L475.64 131.69 L476.32 130.42 L476.9 129.2M476.9 129.21 L476.23 130.48 L475.55 131.76 L474.86 133.04 L474.16 134.32 L473.44 135.6 L472.72 136.87 L471.99 138.15 L471.24 139.42 L470.48 140.69 L469.71 141.96 L468.93 143.23 L468.14 144.49 L467.34 145.75 L466.53 147.01 L465.7 148.26 L464.87 149.51 L464.03 150.76 L463.17 152 L462.3 153.24 L461.43 154.47 L460.54 155.7 L459.64 156.92 L458.74 158.14 L457.82 159.35 L456.89 160.55 L455.95 161.75 L455 162.94 L454.04 164.13 L453.08 165.31 L452.1 166.48 L451.11 167.64 L450.11 168.79 L449.1 169.94 L448.08 171.08 L447.05 172.21 L446.02 173.32 L444.97 174.43 L443.91 175.54 L442.84 176.63 L441.77 177.71 L440.68 178.78 L439.59 179.84 L438.48 180.88 L437.37 181.92 L436.24 182.95 L435.11 183.96 L433.97 184.96 L432.82 185.95 L431.66 186.93 L430.49 187.9 L429.31 188.85 L428.13 189.78 L426.93 190.71 L425.73 191.62 L424.52 192.52 L423.29 193.4 L422.06 194.26 L420.83 195.12 L419.58 195.95 L418.32 196.77 L417.06 197.58 L415.79 198.37 L414.5 199.14 L413.22 199.9 L411.92 200.64 L410.61 201.36 L409.3 202.07 L407.98 202.76 L406.65 203.43 L405.31 204.08 L403.96 204.71 L402.61 205.33 L401.25 205.92 L399.88 206.5 L398.5 207.06 L397.12 207.59 L395.73 208.11 L394.33 208.61 L392.92 209.09 L391.5 209.54 L390.08 209.98 L388.65 210.39 L387.22 210.78 L385.77 211.15 L384.32 211.5 L382.87 211.84 L381.4 212.15 L379.93 212.45 L378.46 212.73 L376.98 213 L375.5 213.25 L374.01 213.49 L372.52 213.72 L371.03 213.94 L369.53 214.14 L368.03 214.34 L366.52 214.53 L365.02 214.71 L363.51 214.89 L362 215.06 L360.49 215.22 L358.98 215.39 L357.46 215.55 L355.95 215.71 L354.44 215.86 L352.93 216.02 L351.42 216.18 L349.91 216.34 L348.4 216.51 L346.89 216.68 L345.39 216.85 L343.88 217.03 L342.38 217.22 L340.89 217.41 L339.39 217.62 L337.91 217.83 L336.42 218.06 L334.94 218.29 L333.46 218.54 L331.99 218.81 L330.53 219.08 L329.07 219.38 L327.61 219.69 L326.17 220.01 L324.73 220.36 L323.3 220.73 L321.87 221.11 L320.46 221.52 L319.05 221.95 L317.66 222.4 L316.27 222.88 L314.9 223.38 L313.53 223.9 L312.18 224.46 L310.85 225.04 L309.52 225.65 L308.21 226.29 L306.92 226.96 L305.64 227.66 L304.37 228.39 L303.13 229.16 L301.89 229.96 L300.68 230.79 L299.49 231.67 L298.31 232.57 L297.15 233.51 L296 234.48 L294.87 235.48 L293.76 236.51 L292.66 237.56 L291.58 238.63 L290.51 239.73 L289.45 240.84 L288.4 241.97 L287.36 243.12 L286.34 244.28 L285.32 245.45 L284.32 246.63 L283.32 247.82 L282.33 249.01 L281.35 250.2 L280.38 251.4 L279.41 252.6 L278.45 253.79 L277.49 254.98 L276.54 256.16 L275.59 257.35 L274.65 258.53 L273.71 259.71 L272.78 260.88 L271.84 262.06 L270.92 263.23 L269.99 264.4 L269.07 265.56 L268.15 266.73 L267.23 267.9 L266.31 269.06 L265.39 270.22 L264.48 271.38 L263.56 272.55 L262.65 273.71 L261.74 274.87 L260.82 276.03 L259.91 277.19 L258.99 278.35 L258.08 279.51 L257.16 280.68 L256.24 281.84 L255.32 283 L254.4 284.17 L253.47 285.34 L252.54 286.51 L251.61 287.68 L250.68 288.85 L249.74 290.03 L248.8 291.2 L247.85 292.38 L246.9 293.57 L245.95 294.75 L244.99 295.94 L244.02 297.14 L243.05 298.33 L242.07 299.53 L241.09 300.73 L240.09 301.94 L239.09 303.14 L238.08 304.33 L237.05 305.5 L235.99 306.65 L234.91 307.76 L233.81 308.82 L232.67 309.84 L231.5 310.79 L230.29 311.68 L229.03 312.5 L227.74 313.23 L226.4 313.88 L225.04 314.45 L223.65 314.92 L222.25 315.29 L220.83 315.57 L219.41 315.74 L217.99 315.81 L216.58 315.76 L215.17 315.61 L213.79 315.33 L212.44 314.95 L211.11 314.47 L209.83 313.88 L208.58 313.2 L207.39 312.44 L206.25 311.58 L205.17 310.66 L204.15 309.65 L203.21 308.59 L202.34 307.45 L201.54 306.26 L200.8 305.02 L200.12 303.74 L199.49 302.41 L198.9 301.05 L198.35 299.66 L197.84 298.24 L197.35 296.8 L196.88 295.35 L196.43 293.89 L195.99 292.42 L195.56 290.95 L195.15 289.46 L194.75 287.97 L194.36 286.48 L193.98 284.98 L193.6 283.48 L193.23 281.97 L192.86 280.46 L192.5 278.95 L192.13 277.44 L191.77 275.93 L191.41 274.43 L191.04 272.92 L190.67 271.42 L190.3 269.92 L189.91 268.43 L189.52 266.94 L189.12 265.46 L188.71 263.99 L188.29 262.52 L187.86 261.07 L187.41 259.63 L186.94 258.19 L186.46 256.77 L185.96 255.36 L185.44 253.96 L184.9 252.58 L184.33 251.22 L183.74 249.87 L183.13 248.53 L182.49 247.22 L181.82 245.92 L181.12 244.65 L180.39 243.39 L179.63 242.16 L178.84 240.95 L178.01 239.76 L177.14 238.59 L176.24 237.45 L175.3 236.34 L174.33 235.25 L173.32 234.18 L172.28 233.14 L171.2 232.13 L170.1 231.14 L168.96 230.17 L167.8 229.23 L166.61 228.32 L165.39 227.43 L164.15 226.56 L162.89 225.72 L161.6 224.91 L160.3 224.12 L158.97 223.35 L157.62 222.61 L156.26 221.9 L154.88 221.21 L153.49 220.54 L152.08 219.9 L150.66 219.29 L149.23 218.69 L147.79 218.13 L146.35 217.59 L144.89 217.07 L143.43 216.58 L141.96 216.11 L140.49 215.67 L139.02 215.26 L137.54 214.86 L136.07 214.5 L134.59 214.15 L133.12 213.84 L131.66 213.54 L130.2 213.28 L128.74 213.03 L127.29 212.81 L125.85 212.62 L124.42 212.45 L123 212.31" fill="none" stroke="#80d2f8" stroke-width="2.7" stroke-linejoin="round" stroke-linecap="round" />
<path d="M123 219.3 L124.46 218.87 L125.91 218.46 L127.37 218.05 L128.83 217.66 L130.3 217.28 L131.76 216.91 L133.23 216.55 L134.7 216.21 L136.17 215.87 L137.64 215.55 L139.11 215.23 L140.59 214.93 L142.06 214.64 L143.54 214.35 L145.02 214.08 L146.5 213.81 L147.98 213.55 L149.47 213.31 L150.95 213.07 L152.44 212.83 L153.92 212.61 L155.41 212.4 L156.9 212.19 L158.39 211.99 L159.88 211.79 L161.37 211.6 L162.87 211.42 L164.36 211.25 L165.86 211.08 L167.35 210.91 L168.85 210.75 L170.35 210.6 L171.85 210.45 L173.35 210.31 L174.85 210.17 L176.35 210.03 L177.85 209.9 L179.35 209.77 L180.85 209.64 L182.35 209.52 L183.86 209.4 L185.36 209.29 L186.86 209.17 L188.37 209.06 L189.87 208.95 L191.38 208.84 L192.88 208.73 L194.39 208.62 L195.89 208.52 L197.4 208.41 L198.9 208.3 L200.41 208.2 L201.91 208.09 L203.42 207.99 L204.92 207.88 L206.43 207.77 L207.93 207.66 L209.43 207.55 L210.94 207.44 L212.44 207.32 L213.94 207.2 L215.45 207.08 L216.95 206.96 L218.45 206.84 L219.95 206.71 L221.45 206.57 L222.95 206.44 L224.45 206.3 L225.95 206.15 L227.45 206 L228.95 205.85 L230.44 205.69 L231.94 205.52 L233.43 205.35 L234.93 205.17 L236.42 204.99 L237.91 204.8 L239.4 204.61 L240.89 204.4 L242.38 204.19 L243.87 203.98 L245.36 203.76 L246.84 203.53 L248.33 203.3 L249.81 203.07 L251.3 202.83 L252.78 202.59 L254.27 202.35 L255.76 202.1 L257.24 201.86 L258.73 201.62 L260.21 201.38 L261.7 201.14 L263.19 200.9 L264.68 200.66 L266.17 200.43 L267.66 200.2 L269.16 199.97 L270.65 199.75 L272.15 199.54 L273.64 199.33 L275.14 199.12 L276.64 198.91 L278.14 198.71 L279.64 198.51 L281.15 198.3 L282.65 198.1 L284.15 197.9 L285.65 197.69 L287.15 197.48 L288.66 197.27 L290.16 197.05 L291.66 196.83 L293.16 196.6 L294.66 196.37 L296.15 196.13 L297.65 195.88 L299.14 195.62 L300.63 195.35 L302.12 195.07 L303.6 194.77 L305.08 194.46 L306.54 194.12 L308 193.77 L309.44 193.39 L310.86 192.98 L312.27 192.55 L313.66 192.08 L315.04 191.59 L316.38 191.05 L317.71 190.48 L319.01 189.87 L320.28 189.21 L321.52 188.52 L322.73 187.77 L323.91 186.97 L325.05 186.13 L326.16 185.22 L327.22 184.27 L328.26 183.26 L329.26 182.2 L330.22 181.1 L331.16 179.96 L332.07 178.78 L332.96 177.56 L333.82 176.31 L334.66 175.04 L335.48 173.74 L336.29 172.42 L337.07 171.07 L337.85 169.72 L338.61 168.35 L339.36 166.97 L340.1 165.59 L340.84 164.21 L341.58 162.83 L342.31 161.45 L343.04 160.08 L343.77 158.72 L344.5 157.36 L345.24 156.01 L345.97 154.67 L346.7 153.33 L347.43 152 L348.16 150.68 L348.89 149.36 L349.62 148.05 L350.35 146.74 L351.08 145.43 L351.81 144.13 L352.54 142.83 L353.27 141.53 L354 140.23 L354.72 138.94 L355.45 137.65 L356.18 136.36 L356.9 135.07 L357.62 133.78 L358.35 132.49 L359.07 131.21 L359.79 129.92 L360.51 128.63 L361.23 127.34 L361.95 126.04 L362.67 124.75 L363.39 123.45 L364.1 122.15 L364.82 120.85 L365.53 119.54 L366.24 118.23 L366.95 116.91 L367.66 115.59 L368.37 114.27 L369.08 112.94 L369.79 111.6 L370.49 110.26 L371.19 108.91 L371.89 107.55 L372.6 106.19 L373.3 104.83 L374 103.46 L374.71 102.1 L375.42 100.73 L376.13 99.36 L376.85 97.99 L377.57 96.63 L378.3 95.27 L379.04 93.91 L379.78 92.56 L380.53 91.21 L381.29 89.88 L382.06 88.55 L382.85 87.23 L383.64 85.92 L384.45 84.63 L385.27 83.34 L386.1 82.07 L386.95 80.82 L387.81 79.58 L388.69 78.36 L389.59 77.16 L390.5 75.97 L391.44 74.81 L392.39 73.66 L393.36 72.54 L394.36 71.44 L395.37 70.37 L396.41 69.32 L397.47 68.3 L398.56 67.3 L399.67 66.34 L400.81 65.4 L401.97 64.49 L403.16 63.62 L404.38 62.78 L405.63 61.97 L406.9 61.2 L408.2 60.47 L409.53 59.79 L410.87 59.18 L412.22 58.63 L413.59 58.16 L414.97 57.77 L416.35 57.46 L417.74 57.25 L419.13 57.15 L420.52 57.15 L421.9 57.25 L423.27 57.44 L424.63 57.73 L425.97 58.11 L427.3 58.57 L428.6 59.12 L429.88 59.74 L431.13 60.44 L432.36 61.2 L433.54 62.04 L434.7 62.93 L435.83 63.88 L436.92 64.89 L437.99 65.95 L439.02 67.06 L440.03 68.21 L441 69.4 L441.95 70.62 L442.86 71.88 L443.75 73.17 L444.62 74.48 L445.45 75.82 L446.26 77.17 L447.04 78.54 L447.8 79.92 L448.53 81.3 L449.23 82.69 L449.91 84.08 L450.57 85.46 L451.2 86.84 L451.81 88.22 L452.41 89.6 L452.98 90.98 L453.54 92.36 L454.08 93.75 L454.61 95.13 L455.12 96.52 L455.63 97.92 L456.12 99.32 L456.61 100.73 L457.09 102.14 L457.57 103.57 L458.04 105 L458.51 106.44 L458.98 107.89 L459.44 109.36 L459.92 110.84 L460.39 112.33 L460.87 113.83 L461.37 115.33 L461.88 116.82 L462.41 118.28 L462.97 119.7 L463.57 121.08 L464.2 122.39 L464.88 123.62 L465.61 124.77 L466.4 125.82 L467.24 126.76 L468.16 127.58 L469.15 128.26 L470.21 128.79 L471.36 129.16 L472.6 129.36 L473.93 129.38 L475.36 129.2 L476.9 128.81M476.9 128.8 L476.23 130.17 L475.55 131.54 L474.87 132.9 L474.16 134.25 L473.45 135.59 L472.73 136.91 L471.99 138.23 L471.25 139.54 L470.49 140.84 L469.72 142.13 L468.94 143.41 L468.15 144.69 L467.35 145.95 L466.54 147.2 L465.72 148.45 L464.88 149.69 L464.04 150.92 L463.18 152.14 L462.32 153.35 L461.44 154.55 L460.56 155.75 L459.66 156.94 L458.75 158.12 L457.84 159.29 L456.91 160.46 L455.98 161.62 L455.03 162.77 L454.08 163.91 L453.11 165.05 L452.14 166.18 L451.16 167.3 L450.16 168.42 L449.16 169.53 L448.15 170.64 L447.13 171.73 L446.1 172.82 L445.07 173.91 L444.02 174.99 L442.96 176.06 L441.9 177.13 L440.83 178.19 L439.75 179.25 L438.66 180.3 L437.56 181.35 L436.46 182.39 L435.34 183.42 L434.22 184.44 L433.09 185.46 L431.95 186.47 L430.8 187.47 L429.65 188.46 L428.48 189.45 L427.31 190.42 L426.13 191.38 L424.94 192.33 L423.75 193.27 L422.54 194.2 L421.33 195.12 L420.11 196.02 L418.88 196.91 L417.64 197.79 L416.39 198.65 L415.14 199.5 L413.88 200.34 L412.61 201.16 L411.33 201.96 L410.04 202.74 L408.74 203.51 L407.44 204.27 L406.13 205 L404.81 205.72 L403.48 206.42 L402.15 207.1 L400.8 207.76 L399.45 208.4 L398.09 209.02 L396.72 209.62 L395.34 210.2 L393.96 210.76 L392.57 211.29 L391.17 211.8 L389.76 212.29 L388.34 212.76 L386.92 213.2 L385.48 213.62 L384.04 214.02 L382.6 214.39 L381.14 214.75 L379.68 215.08 L378.22 215.4 L376.74 215.7 L375.27 215.99 L373.79 216.26 L372.3 216.52 L370.81 216.76 L369.32 216.99 L367.82 217.21 L366.32 217.43 L364.81 217.63 L363.31 217.82 L361.8 218.01 L360.29 218.2 L358.78 218.38 L357.27 218.55 L355.76 218.73 L354.25 218.9 L352.74 219.07 L351.23 219.25 L349.72 219.42 L348.21 219.6 L346.7 219.78 L345.2 219.97 L343.69 220.16 L342.19 220.36 L340.7 220.57 L339.2 220.79 L337.72 221.02 L336.23 221.25 L334.75 221.51 L333.28 221.77 L331.81 222.05 L330.34 222.34 L328.88 222.66 L327.43 222.98 L325.99 223.33 L324.55 223.7 L323.12 224.08 L321.7 224.49 L320.29 224.92 L318.88 225.37 L317.49 225.85 L316.1 226.34 L314.73 226.87 L313.36 227.41 L312.01 227.98 L310.67 228.58 L309.34 229.21 L308.03 229.86 L306.72 230.54 L305.43 231.25 L304.16 231.99 L302.9 232.76 L301.65 233.56 L300.42 234.39 L299.21 235.25 L298.01 236.15 L296.83 237.07 L295.66 238.03 L294.51 239.01 L293.37 240.02 L292.25 241.06 L291.14 242.12 L290.04 243.2 L288.96 244.3 L287.89 245.41 L286.84 246.55 L285.79 247.69 L284.76 248.85 L283.74 250.02 L282.73 251.2 L281.73 252.39 L280.74 253.58 L279.76 254.78 L278.79 255.98 L277.82 257.17 L276.87 258.37 L275.92 259.57 L274.99 260.76 L274.06 261.95 L273.13 263.14 L272.21 264.32 L271.3 265.51 L270.39 266.69 L269.49 267.87 L268.59 269.05 L267.7 270.23 L266.81 271.4 L265.92 272.58 L265.04 273.75 L264.15 274.93 L263.27 276.1 L262.39 277.28 L261.51 278.45 L260.63 279.63 L259.75 280.8 L258.87 281.98 L257.98 283.15 L257.1 284.33 L256.21 285.51 L255.32 286.69 L254.43 287.87 L253.53 289.05 L252.63 290.24 L251.73 291.42 L250.82 292.61 L249.9 293.8 L248.98 294.99 L248.05 296.19 L247.11 297.39 L246.17 298.59 L245.22 299.79 L244.26 301 L243.29 302.21 L242.31 303.42 L241.33 304.64 L240.33 305.86 L239.32 307.09 L238.3 308.32 L237.27 309.55 L236.23 310.78 L235.17 311.99 L234.1 313.19 L233.02 314.37 L231.93 315.53 L230.82 316.66 L229.7 317.76 L228.56 318.81 L227.4 319.83 L226.24 320.79 L225.05 321.7 L223.85 322.56 L222.63 323.35 L221.4 324.07 L220.15 324.73 L218.88 325.3 L217.59 325.79 L216.28 326.2 L214.95 326.51 L213.61 326.73 L212.25 326.86 L210.89 326.89 L209.52 326.82 L208.16 326.67 L206.8 326.41 L205.46 326.07 L204.14 325.63 L202.84 325.11 L201.57 324.49 L200.33 323.78 L199.13 322.98 L197.97 322.1 L196.85 321.15 L195.76 320.13 L194.72 319.06 L193.72 317.93 L192.75 316.76 L191.84 315.54 L190.96 314.3 L190.13 313.03 L189.34 311.74 L188.59 310.43 L187.89 309.1 L187.22 307.75 L186.58 306.39 L185.98 305.01 L185.41 303.61 L184.87 302.2 L184.36 300.77 L183.88 299.34 L183.42 297.89 L182.98 296.43 L182.56 294.96 L182.16 293.49 L181.77 292 L181.4 290.51 L181.05 289.01 L180.7 287.51 L180.36 286.01 L180.03 284.5 L179.7 283 L179.38 281.49 L179.05 279.98 L178.73 278.47 L178.4 276.96 L178.06 275.46 L177.72 273.97 L177.38 272.47 L177.02 270.99 L176.64 269.51 L176.26 268.04 L175.85 266.58 L175.43 265.12 L174.99 263.68 L174.52 262.26 L174.03 260.84 L173.52 259.44 L172.97 258.05 L172.4 256.68 L171.79 255.33 L171.15 253.99 L170.48 252.68 L169.77 251.38 L169.02 250.1 L168.25 248.84 L167.44 247.61 L166.6 246.39 L165.73 245.19 L164.83 244.02 L163.9 242.86 L162.94 241.73 L161.95 240.62 L160.94 239.53 L159.9 238.47 L158.83 237.42 L157.74 236.41 L156.62 235.41 L155.49 234.44 L154.32 233.5 L153.14 232.57 L151.94 231.68 L150.71 230.81 L149.47 229.97 L148.2 229.15 L146.92 228.36 L145.62 227.59 L144.3 226.86 L142.97 226.15 L141.62 225.46 L140.25 224.81 L138.88 224.19 L137.48 223.59 L136.08 223.03 L134.66 222.49 L133.24 221.98 L131.8 221.51 L130.35 221.06 L128.9 220.65 L127.43 220.26 L125.96 219.91 L124.48 219.59 L123 219.31" fill="none" stroke="#8793f4" stroke-width="2.7" stroke-linejoin="round" stroke-linecap="round" />
<rect x="73.3" y="29.4" width="454.4" height="333.2" fill="none" stroke="#000" stroke-width="2"/>
<line x1="123.5" y1="362.6" x2="123.5" y2="356.4" stroke="#000" stroke-width="1.6" />
<line x1="173.95" y1="362.6" x2="173.95" y2="359" stroke="#000" stroke-width="1.6" />
<line x1="224.4" y1="362.6" x2="224.4" y2="356.4" stroke="#000" stroke-width="1.6" />
<line x1="274.85" y1="362.6" x2="274.85" y2="359" stroke="#000" stroke-width="1.6" />
<line x1="325.3" y1="362.6" x2="325.3" y2="356.4" stroke="#000" stroke-width="1.6" />
<line x1="375.75" y1="362.6" x2="375.75" y2="359" stroke="#000" stroke-width="1.6" />
<line x1="426.2" y1="362.6" x2="426.2" y2="356.4" stroke="#000" stroke-width="1.6" />
<line x1="476.65" y1="362.6" x2="476.65" y2="359" stroke="#000" stroke-width="1.6" />
<text x="123.5" y="386.8" font-size="21.5" text-anchor="middle" font-family='"Liberation Serif", serif' font-weight="normal" >0.0</text>
<text x="224.4" y="386.8" font-size="21.5" text-anchor="middle" font-family='"Liberation Serif", serif' font-weight="normal" >0.2</text>
<text x="325.3" y="386.8" font-size="21.5" text-anchor="middle" font-family='"Liberation Serif", serif' font-weight="normal" >0.4</text>
<text x="426.2" y="386.8" font-size="21.5" text-anchor="middle" font-family='"Liberation Serif", serif' font-weight="normal" >0.6</text>
<text x="527.1" y="386.8" font-size="21.5" text-anchor="middle" font-family='"Liberation Serif", serif' font-weight="normal" >0.8</text>
<line x1="73.3" y1="322.76" x2="76.9" y2="322.76" stroke="#000" stroke-width="1.6" />
<line x1="73.3" y1="283.02" x2="79.5" y2="283.02" stroke="#000" stroke-width="1.6" />
<line x1="73.3" y1="243.29" x2="76.9" y2="243.29" stroke="#000" stroke-width="1.6" />
<line x1="73.3" y1="203.55" x2="79.5" y2="203.55" stroke="#000" stroke-width="1.6" />
<line x1="73.3" y1="163.81" x2="76.9" y2="163.81" stroke="#000" stroke-width="1.6" />
<line x1="73.3" y1="124.08" x2="79.5" y2="124.08" stroke="#000" stroke-width="1.6" />
<line x1="73.3" y1="84.34" x2="76.9" y2="84.34" stroke="#000" stroke-width="1.6" />
<line x1="73.3" y1="44.6" x2="79.5" y2="44.6" stroke="#000" stroke-width="1.6" />
<text x="65" y="51.8" font-size="21.5" text-anchor="end" font-family='"Liberation Serif", serif' font-weight="normal" >2</text>
<text x="65" y="131.28" font-size="21.5" text-anchor="end" font-family='"Liberation Serif", serif' font-weight="normal" >1</text>
<text x="65" y="210.75" font-size="21.5" text-anchor="end" font-family='"Liberation Serif", serif' font-weight="normal" >0</text>
<text x="65" y="290.22" font-size="21.5" text-anchor="end" font-family='"Liberation Serif", serif' font-weight="normal" >-1</text>
<text x="65" y="369.7" font-size="21.5" text-anchor="end" font-family='"Liberation Serif", serif' font-weight="normal" >-2</text>
<text x="182" y="418.3" font-size="23" text-anchor="start" font-family='"Liberation Serif", serif' font-weight="normal" >Potential / V (<tspan font-style="italic">vs.</tspan> Ag<tspan dy="-10.5" font-size="15">+</tspan><tspan dy="10.5">/Ag)</tspan></text>
<text transform="translate(29 316.5) rotate(-90)" font-size="23" text-anchor="start" font-family='"Liberation Serif", serif' font-weight="normal" >Current density (mA cm<tspan dy="-8" font-size="15">-2</tspan><tspan dy="8">)</tspan></text>
<line x1="123.3" y1="56.2" x2="170.2" y2="56.2" stroke="#ff6ec7" stroke-width="2.7" stroke-linecap="round"/>
<text x="175.5" y="63.8" font-size="21.5" text-anchor="start" font-family='"Liberation Serif", serif' font-weight="normal" >5 mV s<tspan dy="-8" font-size="14">-1</tspan></text>
<line x1="123.3" y1="85.3" x2="170.2" y2="85.3" stroke="#f9b48c" stroke-width="2.7" stroke-linecap="round"/>
<text x="175.5" y="92.9" font-size="21.5" text-anchor="start" font-family='"Liberation Serif", serif' font-weight="normal" >8 mV s<tspan dy="-8" font-size="14">-1</tspan></text>
<line x1="123.3" y1="114.4" x2="170.2" y2="114.4" stroke="#6cf0c6" stroke-width="2.7" stroke-linecap="round"/>
<text x="175.5" y="122" font-size="21.5" text-anchor="start" font-family='"Liberation Serif", serif' font-weight="normal" >10 mV s<tspan dy="-8" font-size="14">-1</tspan></text>
<line x1="123.3" y1="143.5" x2="170.2" y2="143.5" stroke="#80d2f8" stroke-width="2.7" stroke-linecap="round"/>
<text x="175.5" y="151.1" font-size="21.5" text-anchor="start" font-family='"Liberation Serif", serif' font-weight="normal" >12&#160; mV s<tspan dy="-8" font-size="14">-1</tspan></text>
<line x1="123.3" y1="172.6" x2="170.2" y2="172.6" stroke="#8793f4" stroke-width="2.7" stroke-linecap="round"/>
<text x="175.5" y="180.2" font-size="21.5" text-anchor="start" font-family='"Liberation Serif", serif' font-weight="normal" >15 mV s<tspan dy="-8" font-size="14">-1</tspan></text>
<text x="589.45" y="31.3" font-size="37" text-anchor="start" font-family='"Liberation Sans", sans-serif' font-weight="bold" >(b)</text>
<rect x="683.2" y="23.3" width="454.9" height="334.6" fill="none" stroke="#000" stroke-width="2"/>
<line x1="721.11" y1="357.9" x2="721.11" y2="351.7" stroke="#000" stroke-width="1.6" />
<line x1="759.02" y1="357.9" x2="759.02" y2="354.3" stroke="#000" stroke-width="1.6" />
<line x1="796.93" y1="357.9" x2="796.93" y2="351.7" stroke="#000" stroke-width="1.6" />
<line x1="834.84" y1="357.9" x2="834.84" y2="354.3" stroke="#000" stroke-width="1.6" />
<line x1="872.75" y1="357.9" x2="872.75" y2="351.7" stroke="#000" stroke-width="1.6" />
<line x1="910.66" y1="357.9" x2="910.66" y2="354.3" stroke="#000" stroke-width="1.6" />
<line x1="948.57" y1="357.9" x2="948.57" y2="351.7" stroke="#000" stroke-width="1.6" />
<line x1="986.48" y1="357.9" x2="986.48" y2="354.3" stroke="#000" stroke-width="1.6" />
<line x1="1024.39" y1="357.9" x2="1024.39" y2="351.7" stroke="#000" stroke-width="1.6" />
<line x1="1062.3" y1="357.9" x2="1062.3" y2="354.3" stroke="#000" stroke-width="1.6" />
<line x1="1100.21" y1="357.9" x2="1100.21" y2="351.7" stroke="#000" stroke-width="1.6" />
<text x="721.11" y="381.6" font-size="20" text-anchor="middle" font-family='"Liberation Serif", serif' font-weight="normal" >0.7</text>
<text x="796.93" y="381.6" font-size="20" text-anchor="middle" font-family='"Liberation Serif", serif' font-weight="normal" >0.8</text>
<text x="872.75" y="381.6" font-size="20" text-anchor="middle" font-family='"Liberation Serif", serif' font-weight="normal" >0.9</text>
<text x="948.57" y="381.6" font-size="20" text-anchor="middle" font-family='"Liberation Serif", serif' font-weight="normal" >1.0</text>
<text x="1024.39" y="381.6" font-size="20" text-anchor="middle" font-family='"Liberation Serif", serif' font-weight="normal" >1.1</text>
<text x="1100.21" y="381.6" font-size="20" text-anchor="middle" font-family='"Liberation Serif", serif' font-weight="normal" >1.2</text>
<line x1="683.2" y1="357.6" x2="686.8" y2="357.6" stroke="#000" stroke-width="1.6" />
<line x1="683.2" y1="313" x2="689.4" y2="313" stroke="#000" stroke-width="1.6" />
<line x1="683.2" y1="268.4" x2="686.8" y2="268.4" stroke="#000" stroke-width="1.6" />
<line x1="683.2" y1="223.8" x2="689.4" y2="223.8" stroke="#000" stroke-width="1.6" />
<line x1="683.2" y1="179.2" x2="686.8" y2="179.2" stroke="#000" stroke-width="1.6" />
<line x1="683.2" y1="134.6" x2="689.4" y2="134.6" stroke="#000" stroke-width="1.6" />
<line x1="683.2" y1="90" x2="686.8" y2="90" stroke="#000" stroke-width="1.6" />
<line x1="683.2" y1="45.4" x2="689.4" y2="45.4" stroke="#000" stroke-width="1.6" />
<text x="673.6" y="319.3" font-size="20" text-anchor="end" font-family='"Liberation Serif", serif' font-weight="normal" >0.0</text>
<text x="673.6" y="230.1" font-size="20" text-anchor="end" font-family='"Liberation Serif", serif' font-weight="normal" >0.1</text>
<text x="673.6" y="140.9" font-size="20" text-anchor="end" font-family='"Liberation Serif", serif' font-weight="normal" >0.2</text>
<text x="673.6" y="51.7" font-size="20" text-anchor="end" font-family='"Liberation Serif", serif' font-weight="normal" >0.3</text>
<text x="823" y="418.3" font-size="20.8" text-anchor="start" font-family='"Liberation Serif", serif' font-weight="normal" >Log(Scan rate, V s<tspan dy="-8" font-size="14">-1</tspan><tspan dy="8">)</tspan></text>
<text transform="translate(640.5 282) rotate(-90)" font-size="21.2" text-anchor="start" font-family='"Liberation Serif", serif' font-weight="normal" >Log(Current peak, A)</text>
<line x1="720.33" y1="291.95" x2="1082.08" y2="73.77" stroke="#82d2fa" stroke-width="2.6" />
<line x1="720.33" y1="336.46" x2="1082.08" y2="126.3" stroke="#ff6ec7" stroke-width="2.6" />
<circle cx="720.33" cy="291.95" r="6.7" fill="url(#gSky)"/>
<circle cx="875.09" cy="195.7" r="6.7" fill="url(#gSky)"/>
<circle cx="948.57" cy="151.99" r="6.7" fill="url(#gSky)"/>
<circle cx="1008.61" cy="116.76" r="6.7" fill="url(#gSky)"/>
<circle cx="1082.08" cy="73.77" r="6.7" fill="url(#gSky)"/>
<circle cx="720.33" cy="336.46" r="6.7" fill="url(#gPink)"/>
<circle cx="875.09" cy="246.1" r="6.7" fill="url(#gPink)"/>
<circle cx="948.57" cy="204.62" r="6.7" fill="url(#gPink)"/>
<circle cx="1008.61" cy="169.21" r="6.7" fill="url(#gPink)"/>
<circle cx="1082.08" cy="126.3" r="6.7" fill="url(#gPink)"/>
<circle cx="734.2" cy="43.4" r="6.5" fill="url(#gSky)"/>
<circle cx="734.2" cy="69.4" r="6.5" fill="url(#gPink)"/>
<line x1="709.8" y1="94.8" x2="758.5" y2="94.8" stroke="#ff6ec7" stroke-width="2.6" />
<line x1="709.8" y1="120.3" x2="758.5" y2="120.3" stroke="#82d2fa" stroke-width="2.6" />
<text x="763.6" y="50.6" font-size="20.9" text-anchor="start" font-family='"Liberation Serif", serif' font-weight="normal" >Anode</text>
<text x="763.6" y="76.15" font-size="20.9" text-anchor="start" font-family='"Liberation Serif", serif' font-weight="normal" >Cathode</text>
<text x="763.6" y="101.7" font-size="20.9" text-anchor="start" font-family='"Liberation Serif", serif' font-weight="normal" >Linear Fit of Anode</text>
<text x="763.6" y="127.25" font-size="20.9" text-anchor="start" font-family='"Liberation Serif", serif' font-weight="normal" >Linear Fit of Cathode</text>
<text x="1007.3" y="278.5" font-size="20.5" text-anchor="start" font-family='"Liberation Serif", serif' font-weight="normal" >b<tspan dy="6" font-size="14">1</tspan><tspan dy="-6">=0.513</tspan></text>
<text x="1007.3" y="310" font-size="20.5" text-anchor="start" font-family='"Liberation Serif", serif' font-weight="normal" >b<tspan dy="6" font-size="14">2</tspan><tspan dy="-6">=0.502</tspan></text>
<text x="1.25" y="439.8" font-size="37" text-anchor="start" font-family='"Liberation Sans", sans-serif' font-weight="bold" >(c)</text>
<path d="M70.3 777.5 L70.29 776 L70.28 774.5 L70.28 773 L70.27 771.5 L70.26 769.99 L70.25 768.49 L70.25 766.99 L70.25 765.49 L70.24 763.98 L70.24 762.48 L70.24 760.98 L70.23 759.47 L70.23 757.97 L70.23 756.46 L70.23 754.96 L70.23 753.45 L70.23 751.95 L70.23 750.44 L70.24 748.94 L70.24 747.43 L70.24 745.92 L70.24 744.42 L70.25 742.91 L70.25 741.4 L70.26 739.9 L70.26 738.39 L70.27 736.88 L70.27 735.37 L70.28 733.87 L70.29 732.36 L70.29 730.85 L70.3 729.34 L70.31 727.83 L70.32 726.33 L70.32 724.82 L70.33 723.31 L70.34 721.8 L70.35 720.29 L70.36 718.78 L70.37 717.27 L70.38 715.77 L70.39 714.26 L70.4 712.75 L70.41 711.24 L70.42 709.73 L70.43 708.22 L70.44 706.71 L70.45 705.21 L70.46 703.7 L70.47 702.19 L70.48 700.68 L70.49 699.17 L70.5 697.66 L70.51 696.16 L70.52 694.65 L70.53 693.14 L70.54 691.63 L70.55 690.13 L70.56 688.62 L70.57 687.11 L70.58 685.6 L70.59 684.1 L70.59 682.59 L70.6 681.08 L70.61 679.58 L70.62 678.07 L70.63 676.57 L70.64 675.06 L70.65 673.56 L70.65 672.05 L70.66 670.55 L70.67 669.04 L70.67 667.54 L70.68 666.03 L70.69 664.53 L70.69 663.03 L70.7 661.52 L70.7 660.02 L70.71 658.52 L70.71 657.02 L70.71 655.52 L70.72 654.02 L70.72 652.51 L70.72 651.01 L70.72 649.51 L70.72 648.02 L70.72 646.52 L70.72 645.02 L70.72 643.52 L70.72 642.02 L70.72 640.52 L70.72 639.03 L70.72 637.53 L70.72 636.03 L70.72 634.53 L70.72 633.04 L70.73 631.54 L70.73 630.04 L70.74 628.54 L70.74 627.04 L70.75 625.54 L70.76 624.04 L70.77 622.54 L70.79 621.04 L70.81 619.54 L70.83 618.04 L70.85 616.53 L70.88 615.03 L70.9 613.52 L70.94 612.02 L70.97 610.51 L71.01 609 L71.06 607.49 L71.11 605.97 L71.16 604.46 L71.21 602.94 L71.28 601.43 L71.34 599.91 L71.41 598.39 L71.49 596.86 L71.57 595.34 L71.66 593.81 L71.75 592.28 L71.85 590.75 L71.96 589.22 L72.07 587.68 L72.19 586.14 L72.32 584.6 L72.45 583.06 L72.59 581.51 L72.73 579.96 L72.89 578.41 L73.05 576.86 L73.24 575.32 L73.44 573.79 L73.66 572.27 L73.91 570.77 L74.19 569.29 L74.49 567.84 L74.84 566.41 L75.22 565.02 L75.64 563.66 L76.11 562.34 L76.63 561.06 L77.19 559.83 L77.81 558.65 L78.49 557.53 L79.23 556.46 L80.04 555.45 L80.91 554.51 L81.85 553.64 L82.87 552.84 L83.96 552.11 L85.13 551.46 L86.37 550.88 L87.66 550.37 L89.02 549.92 L90.42 549.52 L91.86 549.18 L93.33 548.89 L94.83 548.63 L96.35 548.42 L97.88 548.23 L99.42 548.08 L100.96 547.94 L102.5 547.83 L104.05 547.74 L105.59 547.67 L107.14 547.61 L108.69 547.56 L110.23 547.51 L111.78 547.47 L113.33 547.43 L114.87 547.39 L116.41 547.34 L117.95 547.3 L119.49 547.24 L121.02 547.18 L122.56 547.12 L124.09 547.06 L125.62 546.99 L127.15 546.92 L128.67 546.84 L130.19 546.76 L131.72 546.68 L133.24 546.59 L134.75 546.5 L136.27 546.4 L137.79 546.3 L139.3 546.2 L140.81 546.1 L142.32 545.99 L143.83 545.88 L145.34 545.76 L146.84 545.64 L148.35 545.52 L149.85 545.4 L151.35 545.27 L152.85 545.14 L154.35 545 L155.85 544.86 L157.35 544.72 L158.84 544.58 L160.34 544.43 L161.83 544.28 L163.33 544.13 L164.82 543.98 L166.31 543.82 L167.8 543.66 L169.29 543.5 L170.78 543.33 L172.26 543.16 L173.75 542.99 L175.24 542.82 L176.72 542.64 L178.21 542.47 L179.69 542.29 L181.18 542.1 L182.66 541.92 L184.14 541.73 L185.62 541.54 L187.11 541.35 L188.59 541.16 L190.07 540.96 L191.55 540.76 L193.03 540.56 L194.51 540.36 L195.99 540.16 L197.47 539.95 L198.95 539.74 L200.44 539.53 L201.92 539.32 L203.4 539.11 L204.88 538.9 L206.36 538.68 L207.84 538.46 L209.32 538.24 L210.8 538.02 L212.28 537.8 L213.77 537.58 L215.25 537.35 L216.73 537.13 L218.22 536.9 L219.7 536.67 L221.18 536.44 L222.67 536.21 L224.15 535.98 L225.64 535.74 L227.13 535.51 L228.61 535.27 L230.1 535.04 L231.59 534.8 L233.08 534.56 L234.57 534.32 L236.07 534.08 L237.56 533.84 L239.05 533.6 L240.55 533.36 L242.04 533.12 L243.54 532.87 L245.04 532.63 L246.54 532.39 L248.04 532.14 L249.54 531.89 L251.04 531.64 L252.54 531.39 L254.04 531.14 L255.54 530.88 L257.04 530.62 L258.54 530.36 L260.04 530.09 L261.54 529.82 L263.04 529.54 L264.53 529.26 L266.02 528.97 L267.52 528.68 L269 528.38 L270.49 528.07 L271.98 527.76 L273.46 527.43 L274.93 527.11 L276.41 526.77 L277.88 526.42 L279.35 526.07 L280.81 525.7 L282.27 525.33 L283.73 524.94 L285.18 524.55 L286.63 524.14 L288.07 523.72 L289.5 523.3 L290.94 522.86 L292.36 522.4 L293.78 521.94 L295.19 521.46 L296.6 520.97 L298 520.46 L299.4 519.94 L300.78 519.41 L302.16 518.86 L303.54 518.29 L304.9 517.71 L306.26 517.11 L307.61 516.5 L308.95 515.87 L310.28 515.22 L311.61 514.56 L312.92 513.87 L314.22 513.17 L315.51 512.45 L316.79 511.71 L318.06 510.94 L319.31 510.16 L320.55 509.35 L321.77 508.52 L322.98 507.67 L324.17 506.79 L325.35 505.89 L326.51 504.97 L327.65 504.02 L328.77 503.04 L329.88 502.04 L330.96 501.01 L332.03 499.96 L333.07 498.87 L334.09 497.76 L335.09 496.62 L336.08 495.46 L337.05 494.28 L338 493.08 L338.95 491.87 L339.9 490.66 L340.85 489.45 L341.8 488.24 L342.75 487.03 L343.72 485.84 L344.69 484.66 L345.69 483.5 L346.7 482.37 L347.73 481.27 L348.79 480.19 L349.89 479.16 L351.01 478.17 L352.17 477.22 L353.37 476.33 L354.61 475.48 L355.9 474.7M355.9 474.7 L356.46 476.13 L356.99 477.57 L357.49 479.01 L357.95 480.46 L358.39 481.91 L358.79 483.37 L359.16 484.83 L359.51 486.29 L359.84 487.76 L360.14 489.23 L360.42 490.7 L360.68 492.18 L360.92 493.66 L361.15 495.14 L361.36 496.63 L361.56 498.12 L361.75 499.61 L361.93 501.1 L362.1 502.6 L362.26 504.1 L362.43 505.6 L362.59 507.1 L362.74 508.6 L362.9 510.1 L363.07 511.61 L363.23 513.12 L363.41 514.63 L363.59 516.13 L363.78 517.64 L363.98 519.15 L364.19 520.66 L364.42 522.18 L364.67 523.69 L364.93 525.2 L365.21 526.71 L365.52 528.22 L365.84 529.72 L366.18 531.22 L366.55 532.72 L366.93 534.21 L367.34 535.69 L367.78 537.17 L368.23 538.63 L368.71 540.08 L369.21 541.52 L369.74 542.95 L370.29 544.36 L370.87 545.75 L371.47 547.13 L372.1 548.49 L372.75 549.82 L373.43 551.14 L374.14 552.44 L374.88 553.71 L375.65 554.95 L376.44 556.17 L377.26 557.36 L378.12 558.53 L379 559.66 L379.91 560.76 L380.86 561.83 L381.83 562.87 L382.84 563.87 L383.88 564.84 L384.95 565.76 L386.06 566.65 L387.2 567.5 L388.37 568.31 L389.57 569.08 L390.81 569.81 L392.08 570.5 L393.38 571.15 L394.71 571.77 L396.06 572.35 L397.44 572.9 L398.85 573.42 L400.27 573.9 L401.72 574.36 L403.18 574.8 L404.66 575.21 L406.16 575.59 L407.67 575.95 L409.2 576.29 L410.74 576.62 L412.29 576.92 L413.84 577.21 L415.41 577.48 L416.98 577.74 L418.55 577.99 L420.13 578.23 L421.71 578.46 L423.29 578.68 L424.86 578.9 L426.44 579.11 L428.01 579.32 L429.57 579.53 L431.12 579.74 L432.67 579.95 L434.21 580.16 L435.73 580.38 L437.24 580.61 L438.73 580.84 L440.21 581.08 L441.68 581.33 L443.13 581.58 L444.57 581.84 L446.01 582.11 L447.44 582.37 L448.86 582.64 L450.28 582.91 L451.69 583.18 L453.11 583.44 L454.53 583.71 L455.96 583.97 L457.38 584.22 L458.82 584.46 L460.27 584.7 L461.72 584.93 L463.19 585.15 L464.67 585.36 L466.17 585.57 L467.67 585.77 L469.18 585.97 L470.69 586.17 L472.22 586.37 L473.74 586.59 L475.27 586.81 L476.8 587.04 L478.34 587.29 L479.87 587.56 L481.39 587.85 L482.91 588.16 L484.43 588.5 L485.94 588.86 L487.44 589.26 L488.94 589.69 L490.41 590.15 L491.88 590.65 L493.32 591.19 L494.75 591.76 L496.15 592.37 L497.52 593.02 L498.87 593.71 L500.18 594.43 L501.45 595.2 L502.69 596.01 L503.89 596.86 L505.04 597.76 L506.15 598.7 L507.21 599.68 L508.21 600.71 L509.16 601.79 L510.05 602.91 L510.89 604.07 L511.67 605.28 L512.4 606.53 L513.07 607.82 L513.71 609.14 L514.29 610.49 L514.84 611.86 L515.35 613.27 L515.82 614.69 L516.25 616.14 L516.66 617.6 L517.03 619.08 L517.38 620.57 L517.71 622.07 L518.01 623.57 L518.3 625.07 L518.56 626.58 L518.82 628.09 L519.05 629.59 L519.27 631.1 L519.48 632.61 L519.68 634.11 L519.86 635.62 L520.02 637.13 L520.18 638.64 L520.32 640.14 L520.45 641.65 L520.58 643.16 L520.69 644.67 L520.79 646.18 L520.88 647.69 L520.97 649.19 L521.05 650.7 L521.12 652.21 L521.18 653.72 L521.23 655.23 L521.28 656.74 L521.33 658.25 L521.37 659.76 L521.41 661.27 L521.44 662.78 L521.47 664.29 L521.5 665.8 L521.52 667.31 L521.55 668.82 L521.57 670.33 L521.59 671.84 L521.61 673.35 L521.63 674.86 L521.66 676.36 L521.68 677.87 L521.71 679.38 L521.74 680.89 L521.77 682.4 L521.8 683.91 L521.83 685.42 L521.87 686.93 L521.9 688.44 L521.94 689.95 L521.98 691.46 L522.01 692.97 L522.05 694.48 L522.09 695.98 L522.13 697.49 L522.18 699 L522.22 700.51 L522.26 702.02 L522.3 703.53 L522.35 705.04 L522.39 706.55 L522.44 708.06 L522.48 709.56 L522.53 711.07 L522.57 712.58 L522.62 714.09 L522.67 715.6 L522.71 717.11 L522.76 718.62 L522.8 720.13 L522.85 721.64 L522.89 723.15 L522.94 724.65 L522.98 726.16 L523.03 727.67 L523.07 729.18 L523.12 730.69 L523.16 732.2 L523.2 733.71 L523.24 735.22 L523.29 736.73 L523.33 738.24 L523.36 739.75 L523.4 741.26 L523.44 742.76 L523.48 744.27 L523.51 745.78 L523.55 747.29 L523.58 748.8 L523.61 750.31 L523.64 751.82 L523.67 753.33 L523.7 754.84 L523.73 756.35 L523.75 757.86 L523.77 759.37 L523.79 760.88 L523.81 762.39 L523.83 763.9 L523.85 765.41 L523.86 766.92 L523.87 768.43 L523.88 769.95 L523.89 771.46 L523.89 772.97 L523.9 774.48 L523.9 775.99 L523.9 777.5" fill="none" stroke="#8796fa" stroke-width="1.8" stroke-linejoin="round" stroke-linecap="round" />
<circle cx="75.3" cy="562" r="4.5" fill="url(#gBlue)"/>
<circle cx="80.1" cy="552.4" r="4.5" fill="url(#gBlue)"/>
<circle cx="84.7" cy="550.58" r="4.5" fill="url(#gBlue)"/>
<circle cx="89.29" cy="549.79" r="4.5" fill="url(#gBlue)"/>
<circle cx="93.89" cy="549.18" r="4.5" fill="url(#gBlue)"/>
<circle cx="98.49" cy="548.8" r="4.5" fill="url(#gBlue)"/>
<circle cx="103.08" cy="548.52" r="4.5" fill="url(#gBlue)"/>
<circle cx="107.68" cy="548.24" r="4.5" fill="url(#gBlue)"/>
<circle cx="112.28" cy="547.97" r="4.5" fill="url(#gBlue)"/>
<circle cx="116.87" cy="547.69" r="4.5" fill="url(#gBlue)"/>
<circle cx="121.47" cy="547.38" r="4.5" fill="url(#gBlue)"/>
<circle cx="126.07" cy="546.99" r="4.5" fill="url(#gBlue)"/>
<circle cx="130.66" cy="546.61" r="4.5" fill="url(#gBlue)"/>
<circle cx="135.26" cy="546.23" r="4.5" fill="url(#gBlue)"/>
<circle cx="139.86" cy="545.85" r="4.5" fill="url(#gBlue)"/>
<circle cx="144.45" cy="545.46" r="4.5" fill="url(#gBlue)"/>
<circle cx="149.05" cy="545.08" r="4.5" fill="url(#gBlue)"/>
<circle cx="153.65" cy="544.67" r="4.5" fill="url(#gBlue)"/>
<circle cx="158.24" cy="544.26" r="4.5" fill="url(#gBlue)"/>
<circle cx="162.84" cy="543.84" r="4.5" fill="url(#gBlue)"/>
<circle cx="167.44" cy="543.43" r="4.5" fill="url(#gBlue)"/>
<circle cx="172.03" cy="543.01" r="4.5" fill="url(#gBlue)"/>
<circle cx="176.63" cy="542.57" r="4.5" fill="url(#gBlue)"/>
<circle cx="181.23" cy="542.13" r="4.5" fill="url(#gBlue)"/>
<circle cx="185.82" cy="541.7" r="4.5" fill="url(#gBlue)"/>
<circle cx="190.42" cy="541.24" r="4.5" fill="url(#gBlue)"/>
<circle cx="195.02" cy="540.6" r="4.5" fill="url(#gBlue)"/>
<circle cx="199.61" cy="539.95" r="4.5" fill="url(#gBlue)"/>
<circle cx="204.21" cy="539.31" r="4.5" fill="url(#gBlue)"/>
<circle cx="208.81" cy="538.67" r="4.5" fill="url(#gBlue)"/>
<circle cx="213.4" cy="537.96" r="4.5" fill="url(#gBlue)"/>
<circle cx="218" cy="537.22" r="4.5" fill="url(#gBlue)"/>
<circle cx="222.6" cy="536.48" r="4.5" fill="url(#gBlue)"/>
<circle cx="227.19" cy="535.75" r="4.5" fill="url(#gBlue)"/>
<circle cx="231.79" cy="534.98" r="4.5" fill="url(#gBlue)"/>
<circle cx="236.39" cy="534.15" r="4.5" fill="url(#gBlue)"/>
<circle cx="240.98" cy="533.32" r="4.5" fill="url(#gBlue)"/>
<circle cx="245.58" cy="532.5" r="4.5" fill="url(#gBlue)"/>
<circle cx="250.18" cy="531.67" r="4.5" fill="url(#gBlue)"/>
<circle cx="254.77" cy="530.77" r="4.5" fill="url(#gBlue)"/>
<circle cx="259.37" cy="529.87" r="4.5" fill="url(#gBlue)"/>
<circle cx="263.97" cy="528.98" r="4.5" fill="url(#gBlue)"/>
<circle cx="268.56" cy="528.08" r="4.5" fill="url(#gBlue)"/>
<circle cx="273.16" cy="527.02" r="4.5" fill="url(#gBlue)"/>
<circle cx="277.76" cy="525.89" r="4.5" fill="url(#gBlue)"/>
<circle cx="282.35" cy="524.75" r="4.5" fill="url(#gBlue)"/>
<circle cx="286.95" cy="523.55" r="4.5" fill="url(#gBlue)"/>
<circle cx="291.55" cy="522.25" r="4.5" fill="url(#gBlue)"/>
<circle cx="296.14" cy="520.95" r="4.5" fill="url(#gBlue)"/>
<circle cx="300.74" cy="519.66" r="4.5" fill="url(#gBlue)"/>
<circle cx="305.34" cy="518.18" r="4.5" fill="url(#gBlue)"/>
<circle cx="309.93" cy="516.32" r="4.5" fill="url(#gBlue)"/>
<circle cx="314.53" cy="514.16" r="4.5" fill="url(#gBlue)"/>
<circle cx="319.13" cy="511.4" r="4.5" fill="url(#gBlue)"/>
<circle cx="323.72" cy="507.77" r="4.5" fill="url(#gBlue)"/>
<circle cx="328.32" cy="503.17" r="4.5" fill="url(#gBlue)"/>
<circle cx="332.92" cy="497.79" r="4.5" fill="url(#gBlue)"/>
<circle cx="337.51" cy="492.48" r="4.5" fill="url(#gBlue)"/>
<circle cx="342.11" cy="487.49" r="4.5" fill="url(#gBlue)"/>
<circle cx="346.71" cy="482.89" r="4.5" fill="url(#gBlue)"/>
<circle cx="351.3" cy="478.43" r="4.5" fill="url(#gBlue)"/>
<circle cx="355.9" cy="474.7" r="4.5" fill="url(#gBlue)"/>
<circle cx="360.1" cy="489.8" r="4.5" fill="url(#gBlue)"/>
<circle cx="364.5" cy="519.5" r="4.5" fill="url(#gBlue)"/>
<circle cx="368.8" cy="540.8" r="4.5" fill="url(#gBlue)"/>
<circle cx="373.6" cy="553.9" r="4.5" fill="url(#gBlue)"/>
<circle cx="378.6" cy="561.2" r="4.5" fill="url(#gBlue)"/>
<circle cx="383.24" cy="565.46" r="4.5" fill="url(#gBlue)"/>
<circle cx="387.88" cy="568.37" r="4.5" fill="url(#gBlue)"/>
<circle cx="392.52" cy="570.47" r="4.5" fill="url(#gBlue)"/>
<circle cx="397.16" cy="572.15" r="4.5" fill="url(#gBlue)"/>
<circle cx="401.8" cy="573.62" r="4.5" fill="url(#gBlue)"/>
<circle cx="406.44" cy="574.91" r="4.5" fill="url(#gBlue)"/>
<circle cx="411.08" cy="576.06" r="4.5" fill="url(#gBlue)"/>
<circle cx="415.72" cy="577.02" r="4.5" fill="url(#gBlue)"/>
<circle cx="420.36" cy="577.97" r="4.5" fill="url(#gBlue)"/>
<circle cx="425" cy="578.82" r="4.5" fill="url(#gBlue)"/>
<circle cx="429.64" cy="579.67" r="4.5" fill="url(#gBlue)"/>
<circle cx="434.28" cy="580.49" r="4.5" fill="url(#gBlue)"/>
<circle cx="438.92" cy="581.29" r="4.5" fill="url(#gBlue)"/>
<circle cx="443.56" cy="582.09" r="4.5" fill="url(#gBlue)"/>
<circle cx="448.2" cy="582.83" r="4.5" fill="url(#gBlue)"/>
<circle cx="452.84" cy="583.56" r="4.5" fill="url(#gBlue)"/>
<circle cx="457.48" cy="584.26" r="4.5" fill="url(#gBlue)"/>
<circle cx="462.12" cy="584.94" r="4.5" fill="url(#gBlue)"/>
<circle cx="466.76" cy="585.59" r="4.5" fill="url(#gBlue)"/>
<circle cx="471.4" cy="586.16" r="4.5" fill="url(#gBlue)"/>
<circle cx="476.04" cy="586.91" r="4.5" fill="url(#gBlue)"/>
<circle cx="480.68" cy="587.84" r="4.5" fill="url(#gBlue)"/>
<circle cx="485.32" cy="588.86" r="4.5" fill="url(#gBlue)"/>
<circle cx="489.96" cy="590.18" r="4.5" fill="url(#gBlue)"/>
<circle cx="494.6" cy="591.63" r="4.5" fill="url(#gBlue)"/>
<circle cx="499.24" cy="593.7" r="4.5" fill="url(#gBlue)"/>
<circle cx="503.88" cy="596.49" r="4.5" fill="url(#gBlue)"/>
<circle cx="508.52" cy="600.53" r="4.5" fill="url(#gBlue)"/>
<circle cx="513.5" cy="607.7" r="4.5" fill="url(#gBlue)"/>
<circle cx="518.5" cy="621.9" r="4.5" fill="url(#gBlue)"/>
<circle cx="522.3" cy="690.5" r="4.5" fill="url(#gBlue)"/>
<path d="M70.12 474.59 L70.75 475.95 L71.37 477.31 L71.99 478.68 L72.61 480.05 L73.22 481.42 L73.82 482.79 L74.42 484.17 L75.01 485.55 L75.6 486.93 L76.19 488.31 L76.77 489.7 L77.35 491.09 L77.93 492.48 L78.5 493.87 L79.07 495.26 L79.64 496.66 L80.2 498.05 L80.76 499.45 L81.32 500.85 L81.88 502.25 L82.44 503.65 L82.99 505.05 L83.55 506.45 L84.1 507.85 L84.66 509.25 L85.21 510.65 L85.77 512.05 L86.32 513.46 L86.88 514.86 L87.43 516.26 L87.99 517.66 L88.55 519.06 L89.11 520.46 L89.67 521.86 L90.24 523.26 L90.8 524.65 L91.37 526.05 L91.95 527.44 L92.52 528.83 L93.1 530.23 L93.68 531.62 L94.26 533 L94.85 534.39 L95.44 535.77 L96.03 537.16 L96.63 538.54 L97.23 539.92 L97.84 541.3 L98.45 542.67 L99.06 544.04 L99.68 545.42 L100.3 546.78 L100.92 548.15 L101.55 549.52 L102.19 550.88 L102.83 552.24 L103.47 553.6 L104.12 554.95 L104.77 556.3 L105.43 557.65 L106.09 559 L106.76 560.34 L107.44 561.69 L108.12 563.03 L108.8 564.36 L109.49 565.69 L110.19 567.02 L110.89 568.35 L111.6 569.67 L112.32 570.99 L113.04 572.31 L113.76 573.63 L114.5 574.94 L115.24 576.24 L115.98 577.55 L116.74 578.85 L117.49 580.15 L118.26 581.44 L119.03 582.73 L119.8 584.02 L120.58 585.3 L121.37 586.59 L122.16 587.87 L122.96 589.14 L123.76 590.42 L124.57 591.69 L125.38 592.95 L126.2 594.22 L127.02 595.48 L127.85 596.74 L128.68 598 L129.51 599.26 L130.35 600.51 L131.19 601.76 L132.04 603.01 L132.89 604.25 L133.75 605.49 L134.61 606.74 L135.47 607.97 L136.34 609.21 L137.21 610.45 L138.09 611.68 L138.96 612.91 L139.84 614.14 L140.73 615.36 L141.61 616.59 L142.5 617.81 L143.39 619.03 L144.29 620.25 L145.19 621.47 L146.09 622.68 L146.99 623.9 L147.9 625.11 L148.8 626.32 L149.72 627.53 L150.63 628.73 L151.55 629.93 L152.47 631.13 L153.39 632.33 L154.32 633.53 L155.25 634.72 L156.18 635.91 L157.12 637.1 L158.06 638.28 L159 639.47 L159.95 640.64 L160.9 641.82 L161.85 642.99 L162.8 644.16 L163.76 645.33 L164.73 646.5 L165.69 647.66 L166.66 648.81 L167.64 649.97 L168.61 651.12 L169.59 652.27 L170.58 653.41 L171.56 654.55 L172.56 655.69 L173.55 656.82 L174.55 657.95 L175.55 659.07 L176.56 660.2 L177.57 661.31 L178.59 662.43 L179.6 663.54 L180.63 664.64 L181.65 665.74 L182.68 666.84 L183.72 667.93 L184.75 669.02 L185.79 670.11 L186.84 671.19 L187.89 672.27 L188.94 673.34 L190 674.41 L191.06 675.47 L192.12 676.53 L193.19 677.59 L194.26 678.65 L195.34 679.69 L196.41 680.74 L197.5 681.78 L198.58 682.82 L199.67 683.85 L200.77 684.88 L201.86 685.91 L202.96 686.93 L204.07 687.95 L205.18 688.96 L206.29 689.97 L207.4 690.97 L208.52 691.98 L209.65 692.97 L210.77 693.97 L211.9 694.96 L213.04 695.94 L214.17 696.93 L215.31 697.9 L216.46 698.88 L217.6 699.85 L218.75 700.81 L219.91 701.77 L221.07 702.73 L222.23 703.69 L223.39 704.64 L224.56 705.58 L225.73 706.52 L226.91 707.46 L228.09 708.4 L229.27 709.33 L230.45 710.25 L231.64 711.18 L232.84 712.09 L234.03 713.01 L235.23 713.92 L236.43 714.83 L237.64 715.73 L238.85 716.63 L240.06 717.52 L241.28 718.41 L242.5 719.3 L243.72 720.18 L244.94 721.06 L246.17 721.93 L247.4 722.81 L248.64 723.67 L249.88 724.54 L251.12 725.39 L252.37 726.25 L253.62 727.1 L254.87 727.95 L256.12 728.79 L257.38 729.63 L258.64 730.47 L259.91 731.3 L261.17 732.12 L262.44 732.95 L263.72 733.77 L265 734.58 L266.28 735.39 L267.56 736.19 L268.85 736.99 L270.14 737.79 L271.43 738.58 L272.73 739.36 L274.03 740.14 L275.33 740.91 L276.64 741.68 L277.95 742.44 L279.26 743.19 L280.58 743.94 L281.9 744.68 L283.22 745.41 L284.54 746.14 L285.87 746.86 L287.21 747.57 L288.54 748.28 L289.88 748.98 L291.23 749.67 L292.57 750.35 L293.92 751.03 L295.27 751.7 L296.63 752.36 L297.99 753.01 L299.35 753.65 L300.72 754.28 L302.09 754.91 L303.46 755.53 L304.84 756.13 L306.22 756.73 L307.6 757.32 L308.99 757.9 L310.38 758.47 L311.77 759.03 L313.17 759.58 L314.57 760.12 L315.97 760.65 L317.38 761.17 L318.79 761.68 L320.2 762.17 L321.62 762.66 L323.04 763.14 L324.47 763.6 L325.89 764.06 L327.33 764.5 L328.76 764.93 L330.2 765.35 L331.64 765.76 L333.09 766.15 L334.54 766.53 L335.99 766.9 L337.44 767.26 L338.9 767.61 L340.37 767.94 L341.83 768.26 L343.3 768.56 L344.78 768.86 L346.26 769.14 L347.74 769.4 L349.22 769.66 L350.71 769.9 L352.2 770.12 L353.7 770.33 L355.19 770.53 L356.7 770.71M356.7 770.69 L357.88 769.77 L359.08 768.87 L360.29 767.97 L361.5 767.09 L362.73 766.22 L363.97 765.36 L365.22 764.51 L366.47 763.66 L367.73 762.82 L368.99 761.99 L370.26 761.16 L371.54 760.34 L372.81 759.52 L374.09 758.7 L375.37 757.89 L376.66 757.07 L377.94 756.26 L379.22 755.44 L380.5 754.62 L381.77 753.8 L383.04 752.97 L384.31 752.14 L385.57 751.3 L386.83 750.46 L388.08 749.61 L389.32 748.75 L390.56 747.88 L391.78 747 L393 746.11 L394.2 745.21 L395.39 744.29 L396.58 743.36 L397.75 742.43 L398.91 741.48 L400.06 740.51 L401.2 739.54 L402.33 738.56 L403.45 737.56 L404.56 736.56 L405.67 735.55 L406.76 734.52 L407.85 733.49 L408.92 732.45 L409.99 731.39 L411.05 730.33 L412.1 729.27 L413.14 728.19 L414.18 727.1 L415.21 726.01 L416.23 724.91 L417.24 723.8 L418.25 722.69 L419.25 721.57 L420.24 720.44 L421.23 719.31 L422.21 718.17 L423.19 717.02 L424.15 715.87 L425.12 714.71 L426.08 713.55 L427.03 712.38 L427.98 711.21 L428.92 710.03 L429.86 708.85 L430.79 707.67 L431.71 706.48 L432.63 705.28 L433.55 704.08 L434.46 702.87 L435.36 701.66 L436.26 700.45 L437.15 699.23 L438.04 698.01 L438.93 696.78 L439.8 695.55 L440.67 694.31 L441.54 693.07 L442.4 691.83 L443.26 690.58 L444.11 689.33 L444.95 688.07 L445.79 686.81 L446.63 685.55 L447.46 684.28 L448.28 683.01 L449.1 681.74 L449.91 680.46 L450.72 679.18 L451.52 677.89 L452.32 676.6 L453.11 675.31 L453.9 674.02 L454.68 672.72 L455.46 671.42 L456.23 670.11 L456.99 668.8 L457.75 667.49 L458.51 666.18 L459.26 664.86 L460 663.54 L460.74 662.22 L461.48 660.89 L462.21 659.56 L462.93 658.23 L463.65 656.9 L464.36 655.57 L465.07 654.23 L465.78 652.89 L466.47 651.54 L467.17 650.2 L467.85 648.85 L468.54 647.5 L469.21 646.15 L469.89 644.8 L470.55 643.44 L471.22 642.08 L471.87 640.72 L472.52 639.36 L473.17 638 L473.81 636.63 L474.45 635.27 L475.08 633.9 L475.71 632.53 L476.33 631.15 L476.94 629.78 L477.56 628.4 L478.16 627.02 L478.76 625.64 L479.36 624.26 L479.95 622.88 L480.54 621.49 L481.12 620.11 L481.7 618.72 L482.28 617.33 L482.85 615.93 L483.41 614.54 L483.97 613.14 L484.52 611.75 L485.08 610.35 L485.62 608.95 L486.16 607.54 L486.7 606.14 L487.23 604.73 L487.76 603.32 L488.29 601.91 L488.81 600.5 L489.32 599.09 L489.83 597.67 L490.34 596.26 L490.84 594.84 L491.34 593.42 L491.83 592 L492.32 590.58 L492.81 589.15 L493.29 587.72 L493.77 586.3 L494.24 584.87 L494.71 583.43 L495.18 582 L495.64 580.57 L496.1 579.13 L496.55 577.69 L497 576.25 L497.45 574.81 L497.89 573.37 L498.33 571.93 L498.77 570.48 L499.2 569.03 L499.63 567.58 L500.05 566.13 L500.47 564.68 L500.89 563.23 L501.3 561.77 L501.71 560.32 L502.12 558.86 L502.52 557.4 L502.92 555.94 L503.31 554.48 L503.71 553.01 L504.1 551.55 L504.48 550.08 L504.87 548.61 L505.25 547.15 L505.63 545.68 L506.01 544.21 L506.38 542.74 L506.76 541.27 L507.13 539.79 L507.5 538.32 L507.87 536.85 L508.23 535.38 L508.6 533.9 L508.96 532.43 L509.32 530.95 L509.68 529.48 L510.04 528 L510.4 526.53 L510.76 525.05 L511.12 523.58 L511.47 522.11 L511.83 520.63 L512.19 519.16 L512.54 517.68 L512.9 516.21 L513.26 514.74 L513.62 513.27 L513.98 511.8 L514.34 510.33 L514.71 508.87 L515.08 507.4 L515.46 505.95 L515.85 504.49 L516.24 503.04 L516.64 501.6 L517.05 500.16 L517.47 498.73 L517.89 497.3 L518.34 495.88 L518.79 494.47 L519.26 493.06 L519.74 491.67 L520.23 490.28 L520.74 488.9 L521.27 487.53 L521.82 486.17 L522.38 484.83 L522.96 483.49 L523.56 482.17 L524.19 480.85 L524.83 479.55 L525.5 478.27 L526.19 476.99" fill="none" stroke="#ff6ec7" stroke-width="3" stroke-linejoin="round" stroke-linecap="round" />
<rect x="69.6" y="441.3" width="458.2" height="336.4" fill="none" stroke="#000" stroke-width="2"/>
<line x1="147.27" y1="777.7" x2="147.27" y2="771.5" stroke="#000" stroke-width="1.6" />
<line x1="224.94" y1="777.7" x2="224.94" y2="771.5" stroke="#000" stroke-width="1.6" />
<line x1="302.61" y1="777.7" x2="302.61" y2="771.5" stroke="#000" stroke-width="1.6" />
<line x1="380.28" y1="777.7" x2="380.28" y2="771.5" stroke="#000" stroke-width="1.6" />
<line x1="457.95" y1="777.7" x2="457.95" y2="771.5" stroke="#000" stroke-width="1.6" />
<text x="69.6" y="800.4" font-size="20" text-anchor="middle" font-family='"Liberation Serif", serif' font-weight="normal" >0</text>
<text x="147.27" y="800.4" font-size="20" text-anchor="middle" font-family='"Liberation Serif", serif' font-weight="normal" >200</text>
<text x="224.94" y="800.4" font-size="20" text-anchor="middle" font-family='"Liberation Serif", serif' font-weight="normal" >400</text>
<text x="302.61" y="800.4" font-size="20" text-anchor="middle" font-family='"Liberation Serif", serif' font-weight="normal" >600</text>
<text x="380.28" y="800.4" font-size="20" text-anchor="middle" font-family='"Liberation Serif", serif' font-weight="normal" >800</text>
<text x="457.95" y="800.4" font-size="20" text-anchor="middle" font-family='"Liberation Serif", serif' font-weight="normal" >1000</text>
<line x1="69.6" y1="716.5" x2="75.8" y2="716.5" stroke="#000" stroke-width="1.6" />
<line x1="69.6" y1="655.3" x2="75.8" y2="655.3" stroke="#000" stroke-width="1.6" />
<line x1="69.6" y1="594.1" x2="75.8" y2="594.1" stroke="#000" stroke-width="1.6" />
<line x1="69.6" y1="532.9" x2="75.8" y2="532.9" stroke="#000" stroke-width="1.6" />
<line x1="69.6" y1="471.7" x2="75.8" y2="471.7" stroke="#000" stroke-width="1.6" />
<text x="61.3" y="784.3" font-size="20" text-anchor="end" font-family='"Liberation Serif", serif' font-weight="normal" >0.0</text>
<text x="61.3" y="723.1" font-size="20" text-anchor="end" font-family='"Liberation Serif", serif' font-weight="normal" >0.1</text>
<text x="61.3" y="661.9" font-size="20" text-anchor="end" font-family='"Liberation Serif", serif' font-weight="normal" >0.2</text>
<text x="61.3" y="600.7" font-size="20" text-anchor="end" font-family='"Liberation Serif", serif' font-weight="normal" >0.3</text>
<text x="61.3" y="539.5" font-size="20" text-anchor="end" font-family='"Liberation Serif", serif' font-weight="normal" >0.4</text>
<text x="61.3" y="478.3" font-size="20" text-anchor="end" font-family='"Liberation Serif", serif' font-weight="normal" >0.5</text>
<line x1="527.8" y1="742.3" x2="521.6" y2="742.3" stroke="#000" stroke-width="1.6" />
<text x="534.8" y="748.3" font-size="20" text-anchor="start" font-family='"Liberation Serif", serif' font-weight="normal" >20</text>
<line x1="527.8" y1="671.5" x2="521.6" y2="671.5" stroke="#000" stroke-width="1.6" />
<text x="534.8" y="677.5" font-size="20" text-anchor="start" font-family='"Liberation Serif", serif' font-weight="normal" >40</text>
<line x1="527.8" y1="600.7" x2="521.6" y2="600.7" stroke="#000" stroke-width="1.6" />
<text x="534.8" y="606.7" font-size="20" text-anchor="start" font-family='"Liberation Serif", serif' font-weight="normal" >60</text>
<line x1="527.8" y1="529.9" x2="521.6" y2="529.9" stroke="#000" stroke-width="1.6" />
<text x="534.8" y="535.9" font-size="20" text-anchor="start" font-family='"Liberation Serif", serif' font-weight="normal" >80</text>
<line x1="527.8" y1="459.1" x2="521.6" y2="459.1" stroke="#000" stroke-width="1.6" />
<text x="534.8" y="465.1" font-size="20" text-anchor="start" font-family='"Liberation Serif", serif' font-weight="normal" >100</text>
<text x="265" y="826.8" font-size="21" text-anchor="start" font-family='"Liberation Serif", serif' font-weight="normal" >Time / s</text>
<text transform="translate(26.4 709.6) rotate(-90)" font-size="19.8" text-anchor="start" font-family='"Liberation Serif", serif' font-weight="normal" >Potential / V(<tspan font-style="italic">vs.</tspan> Ag<tspan dy="-8" font-size="14">+</tspan><tspan dy="8">/Ag)</tspan></text>
<text transform="translate(580.2 687.4) rotate(-90)" font-size="21.4" text-anchor="start" font-family='"Liberation Serif", serif' font-weight="normal" >Transmittance / %</text>
<text x="159.2" y="496.6" font-size="21" text-anchor="start" font-family='"Liberation Serif", serif' font-weight="normal" >Charge</text>
<line x1="198.5" y1="505.1" x2="207.53" y2="523.7" stroke="#000" stroke-width="1.3" />
<path d="M211.9 532.7 L203.68 524.46 L210.51 521.14 Z" fill="#000"/>
<text x="397.4" y="539.6" font-size="21" text-anchor="start" font-family='"Liberation Serif", serif' font-weight="normal" >Discharge</text>
<line x1="442.4" y1="548.1" x2="442.4" y2="568.2" stroke="#000" stroke-width="1.3" />
<path d="M442.4 578.2 L438.6 567.2 L446.2 567.2 Z" fill="#000"/>
<text x="128.4" y="724" font-size="21" text-anchor="start" font-family='"Liberation Serif", serif' font-weight="normal" >Colored</text>
<line x1="172" y1="704.5" x2="182.12" y2="690.59" stroke="#000" stroke-width="1.3" />
<path d="M188 682.5 L184.6 693.63 L178.46 689.16 Z" fill="#000"/>
<text x="330.7" y="671.7" font-size="21" text-anchor="start" font-family='"Liberation Serif", serif' font-weight="normal" >Bleached</text>
<line x1="408.75" y1="678.75" x2="427.05" y2="692.69" stroke="#000" stroke-width="1.3" />
<path d="M435 698.75 L423.95 695.11 L428.55 689.06 Z" fill="#000"/>
<ellipse cx="118.2" cy="534.5" rx="5.8" ry="21.1" fill="none" stroke="#8796fa" stroke-width="1.4"/>
<line x1="118.2" y1="513.6" x2="86" y2="513.6" stroke="#8796fa" stroke-width="1.6" />
<path d="M75.7 513.9 L87.5 510.7 L87.5 517.1 Z" fill="#8796fa"/>
<ellipse cx="472.7" cy="644.3" rx="6" ry="20.8" fill="none" stroke="#ff6ec7" stroke-width="1.4"/>
<line x1="472.7" y1="665.1" x2="503" y2="665.1" stroke="#ff6ec7" stroke-width="1.6" />
<path d="M513.6 665.2 L501.5 662 L501.5 668.4 Z" fill="#ff6ec7"/>
<text x="591.2" y="442.3" font-size="37" text-anchor="start" font-family='"Liberation Sans", sans-serif' font-weight="bold" >(d)</text>
<polyline points="699.46,460.09 740.98,486.97 782.5,505.46 865.54,547.47 948.58,565.96 1114.66,623.93" fill="none" stroke="#82d2fa" stroke-width="2.6" stroke-linejoin="round"/>
<polyline points="699.46,481.26 740.98,507.81 782.5,535.04 865.54,595.87 948.58,618.72 1114.66,644.94" fill="none" stroke="#ff6ec7" stroke-width="2.6" stroke-linejoin="round"/>
<circle cx="699.46" cy="460.09" r="5.2" fill="url(#gSky)"/>
<circle cx="740.98" cy="486.97" r="5.2" fill="url(#gSky)"/>
<circle cx="782.5" cy="505.46" r="5.2" fill="url(#gSky)"/>
<circle cx="865.54" cy="547.47" r="5.2" fill="url(#gSky)"/>
<circle cx="948.58" cy="565.96" r="5.2" fill="url(#gSky)"/>
<circle cx="1114.66" cy="623.93" r="5.2" fill="url(#gSky)"/>
<rect x="694.86" y="476.66" width="9.2" height="9.2" fill="#ff6ec7"/>
<rect x="736.38" y="503.21" width="9.2" height="9.2" fill="#ff6ec7"/>
<rect x="777.9" y="530.44" width="9.2" height="9.2" fill="#ff6ec7"/>
<rect x="860.94" y="591.27" width="9.2" height="9.2" fill="#ff6ec7"/>
<rect x="943.98" y="614.12" width="9.2" height="9.2" fill="#ff6ec7"/>
<rect x="1110.06" y="640.34" width="9.2" height="9.2" fill="#ff6ec7"/>
<rect x="678.7" y="441.6" width="457.2" height="336.1" fill="none" stroke="#000" stroke-width="2"/>
<line x1="720.22" y1="777.7" x2="720.22" y2="771.5" stroke="#000" stroke-width="1.6" />
<line x1="772.12" y1="777.7" x2="772.12" y2="774.1" stroke="#000" stroke-width="1.6" />
<line x1="824.02" y1="777.7" x2="824.02" y2="771.5" stroke="#000" stroke-width="1.6" />
<line x1="875.92" y1="777.7" x2="875.92" y2="774.1" stroke="#000" stroke-width="1.6" />
<line x1="927.82" y1="777.7" x2="927.82" y2="771.5" stroke="#000" stroke-width="1.6" />
<line x1="979.72" y1="777.7" x2="979.72" y2="774.1" stroke="#000" stroke-width="1.6" />
<line x1="1031.62" y1="777.7" x2="1031.62" y2="771.5" stroke="#000" stroke-width="1.6" />
<line x1="1083.52" y1="777.7" x2="1083.52" y2="774.1" stroke="#000" stroke-width="1.6" />
<line x1="1135.42" y1="777.7" x2="1135.42" y2="771.5" stroke="#000" stroke-width="1.6" />
<text x="720.22" y="799.7" font-size="19.3" text-anchor="middle" font-family='"Liberation Serif", serif' font-weight="normal" >0.5</text>
<text x="824.02" y="799.7" font-size="19.3" text-anchor="middle" font-family='"Liberation Serif", serif' font-weight="normal" >1.0</text>
<text x="927.82" y="799.7" font-size="19.3" text-anchor="middle" font-family='"Liberation Serif", serif' font-weight="normal" >1.5</text>
<text x="1031.62" y="799.7" font-size="19.3" text-anchor="middle" font-family='"Liberation Serif", serif' font-weight="normal" >2.0</text>
<text x="1135.42" y="799.7" font-size="19.3" text-anchor="middle" font-family='"Liberation Serif", serif' font-weight="normal" >2.5</text>
<line x1="678.7" y1="777.7" x2="684.9" y2="777.7" stroke="#000" stroke-width="1.6" />
<line x1="678.7" y1="744.09" x2="682.3" y2="744.09" stroke="#000" stroke-width="1.6" />
<line x1="678.7" y1="710.48" x2="684.9" y2="710.48" stroke="#000" stroke-width="1.6" />
<line x1="678.7" y1="676.87" x2="682.3" y2="676.87" stroke="#000" stroke-width="1.6" />
<line x1="678.7" y1="643.26" x2="684.9" y2="643.26" stroke="#000" stroke-width="1.6" />
<line x1="678.7" y1="609.65" x2="682.3" y2="609.65" stroke="#000" stroke-width="1.6" />
<line x1="678.7" y1="576.04" x2="684.9" y2="576.04" stroke="#000" stroke-width="1.6" />
<line x1="678.7" y1="542.43" x2="682.3" y2="542.43" stroke="#000" stroke-width="1.6" />
<line x1="678.7" y1="508.82" x2="684.9" y2="508.82" stroke="#000" stroke-width="1.6" />
<line x1="678.7" y1="475.21" x2="682.3" y2="475.21" stroke="#000" stroke-width="1.6" />
<line x1="678.7" y1="441.6" x2="684.9" y2="441.6" stroke="#000" stroke-width="1.6" />
<text x="670.2" y="784.1" font-size="19.3" text-anchor="end" font-family='"Liberation Serif", serif' font-weight="normal" >0</text>
<text x="670.2" y="716.88" font-size="19.3" text-anchor="end" font-family='"Liberation Serif", serif' font-weight="normal" >20</text>
<text x="670.2" y="649.66" font-size="19.3" text-anchor="end" font-family='"Liberation Serif", serif' font-weight="normal" >40</text>
<text x="670.2" y="582.44" font-size="19.3" text-anchor="end" font-family='"Liberation Serif", serif' font-weight="normal" >60</text>
<text x="670.2" y="515.22" font-size="19.3" text-anchor="end" font-family='"Liberation Serif", serif' font-weight="normal" >80</text>
<text x="670.2" y="448" font-size="19.3" text-anchor="end" font-family='"Liberation Serif", serif' font-weight="normal" >100</text>
<line x1="1135.9" y1="777.7" x2="1129.7" y2="777.7" stroke="#000" stroke-width="1.6" />
<line x1="1135.9" y1="735.69" x2="1132.3" y2="735.69" stroke="#000" stroke-width="1.6" />
<line x1="1135.9" y1="693.67" x2="1129.7" y2="693.67" stroke="#000" stroke-width="1.6" />
<line x1="1135.9" y1="651.66" x2="1132.3" y2="651.66" stroke="#000" stroke-width="1.6" />
<line x1="1135.9" y1="609.65" x2="1129.7" y2="609.65" stroke="#000" stroke-width="1.6" />
<line x1="1135.9" y1="567.64" x2="1132.3" y2="567.64" stroke="#000" stroke-width="1.6" />
<line x1="1135.9" y1="525.62" x2="1129.7" y2="525.62" stroke="#000" stroke-width="1.6" />
<line x1="1135.9" y1="483.61" x2="1132.3" y2="483.61" stroke="#000" stroke-width="1.6" />
<line x1="1135.9" y1="441.6" x2="1129.7" y2="441.6" stroke="#000" stroke-width="1.6" />
<text x="1143.2" y="784.1" font-size="19.3" text-anchor="start" font-family='"Liberation Serif", serif' font-weight="normal" >10</text>
<text x="1143.2" y="700.07" font-size="19.3" text-anchor="start" font-family='"Liberation Serif", serif' font-weight="normal" >20</text>
<text x="1143.2" y="616.05" font-size="19.3" text-anchor="start" font-family='"Liberation Serif", serif' font-weight="normal" >30</text>
<text x="1143.2" y="532.02" font-size="19.3" text-anchor="start" font-family='"Liberation Serif", serif' font-weight="normal" >40</text>
<text x="1143.2" y="448" font-size="19.3" text-anchor="start" font-family='"Liberation Serif", serif' font-weight="normal" >50</text>
<text x="810.5" y="825.3" font-size="21" text-anchor="start" font-family='"Liberation Serif", serif' font-weight="normal" >Current density / A g<tspan dy="-9" font-size="14">-1</tspan></text>
<text transform="translate(634.4 646.7) rotate(-90)" font-size="20.5" text-anchor="start" font-family='"Liberation Serif", serif' font-weight="normal" >&#916;T / %</text>
<text transform="translate(1175.9 518.8) rotate(90)" font-size="19.5" text-anchor="start" font-family='"Liberation Serif", serif' font-weight="normal" >Specific capacity / mAh g<tspan dy="-8" font-size="13">-1</tspan></text>
<line x1="995.2" y1="489.7" x2="1040.7" y2="489.7" stroke="#ff6ec7" stroke-width="2.6" />
<rect x="1013.4" y="485.2" width="9.1" height="8.8" fill="#ff6ec7"/>
<text x="1045" y="496" font-size="19.3" text-anchor="start" font-family='"Liberation Serif", serif' font-weight="normal" >500 nm</text>
<ellipse cx="722.7" cy="511.7" rx="6.8" ry="20.4" fill="none" stroke="#ff6ec7" stroke-width="1.4"/>
<line x1="719" y1="530.1" x2="692" y2="530.1" stroke="#ff6ec7" stroke-width="1.6" />
<path d="M683.3 530.2 L694 527 L694 533.4 Z" fill="#ff6ec7"/>
<ellipse cx="1084.6" cy="600.8" rx="6.4" ry="21.2" fill="none" stroke="#82d2fa" stroke-width="1.4"/>
<line x1="1085" y1="580.7" x2="1111" y2="580.7" stroke="#82d2fa" stroke-width="1.6" />
<path d="M1120.5 581 L1109.5 577.8 L1109.5 584.2 Z" fill="#82d2fa"/>
</svg>
</body></html>
